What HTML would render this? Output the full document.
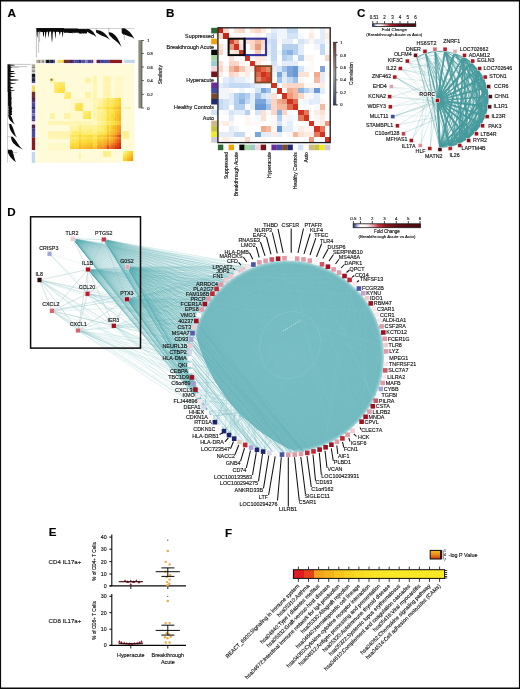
<!DOCTYPE html>
<html><head><meta charset="utf-8"><title>figure</title><style>
html,body{margin:0;padding:0;background:#fff;overflow:hidden}
svg{display:block;will-change:transform;transform:translateZ(0)}
text{font-family:"Liberation Sans",sans-serif;stroke:#111;stroke-width:0.14px}
</style></head><body>
<svg width="520" height="689" viewBox="0 0 520 689">
<rect x="0" y="0" width="520" height="689" fill="#fff"/>
<g id="pa">
<text x="7.5" y="17.4" font-size="11.8" font-weight="bold" fill="#000">A</text>
<rect x="36.3" y="64.3" width="98.4" height="98.4" fill="#fffbd8"/>
<g shape-rendering="crispEdges">
<rect x="92.5" y="76.3" width="4.1" height="2.1" fill="#fef4ad"/>
<rect x="102.6" y="76.3" width="8.1" height="2.1" fill="#fff5b0"/>
<rect x="114.6" y="76.3" width="8.1" height="2.1" fill="#fff8c7"/>
<rect x="50.4" y="78.4" width="4.1" height="2.1" fill="#fff5af"/>
<rect x="84.5" y="78.4" width="6.1" height="2.1" fill="#fef3a4"/>
<rect x="92.5" y="78.4" width="4.1" height="2.1" fill="#fff5b1"/>
<rect x="102.6" y="78.4" width="8.1" height="2.1" fill="#fef4ae"/>
<rect x="114.6" y="78.4" width="8.1" height="2.1" fill="#fff8c6"/>
<rect x="50.4" y="80.4" width="4.1" height="2.1" fill="#fef4a7"/>
<rect x="84.5" y="80.4" width="6.1" height="2.1" fill="#fef3a3"/>
<rect x="92.5" y="80.4" width="4.1" height="2.1" fill="#fef4ae"/>
<rect x="102.6" y="80.4" width="8.1" height="2.1" fill="#fef4ae"/>
<rect x="114.6" y="80.4" width="8.1" height="2.1" fill="#fff8c7"/>
<rect x="54.4" y="82.4" width="4.1" height="2.1" fill="#fdee77"/>
<rect x="58.4" y="82.4" width="4.1" height="2.1" fill="#fdea67"/>
<rect x="62.4" y="82.4" width="2.1" height="2.1" fill="#fce75d"/>
<rect x="92.5" y="82.4" width="4.1" height="2.1" fill="#fff5b0"/>
<rect x="102.6" y="82.4" width="8.1" height="2.1" fill="#fff5b4"/>
<rect x="114.6" y="82.4" width="8.1" height="2.1" fill="#fff8c6"/>
<rect x="54.4" y="84.4" width="4.1" height="2.1" fill="#fded70"/>
<rect x="58.4" y="84.4" width="6.1" height="2.1" fill="#fce65a"/>
<rect x="92.5" y="84.4" width="4.1" height="2.1" fill="#fff5b0"/>
<rect x="102.6" y="84.4" width="8.1" height="2.1" fill="#fff5af"/>
<rect x="114.6" y="84.4" width="8.1" height="2.1" fill="#fff8c6"/>
<rect x="54.4" y="86.4" width="6.1" height="2.1" fill="#fde963"/>
<rect x="60.4" y="86.4" width="2.1" height="2.1" fill="#fce554"/>
<rect x="62.4" y="86.4" width="2.1" height="2.1" fill="#fbe043"/>
<rect x="92.5" y="86.4" width="4.1" height="2.1" fill="#fff5b1"/>
<rect x="102.6" y="86.4" width="8.1" height="2.1" fill="#fff5af"/>
<rect x="114.6" y="86.4" width="8.1" height="2.1" fill="#fff8c7"/>
<rect x="54.4" y="88.4" width="2.1" height="2.1" fill="#fdea66"/>
<rect x="56.4" y="88.4" width="4.1" height="2.1" fill="#fce555"/>
<rect x="60.4" y="88.4" width="4.1" height="2.1" fill="#fbe045"/>
<rect x="92.5" y="88.4" width="4.1" height="2.1" fill="#fff5b4"/>
<rect x="102.6" y="88.4" width="8.1" height="2.1" fill="#fff5b3"/>
<rect x="114.6" y="88.4" width="8.1" height="2.1" fill="#fff7c5"/>
<rect x="54.4" y="90.4" width="4.1" height="2.1" fill="#fce75a"/>
<rect x="58.4" y="90.4" width="4.1" height="2.1" fill="#fbe042"/>
<rect x="62.4" y="90.4" width="2.1" height="2.1" fill="#fbd938"/>
<rect x="92.5" y="90.4" width="4.1" height="2.1" fill="#fef4ab"/>
<rect x="102.6" y="90.4" width="8.1" height="2.1" fill="#fff5b0"/>
<rect x="114.6" y="90.4" width="8.1" height="2.1" fill="#fff8c6"/>
<rect x="64.4" y="92.4" width="2.1" height="2.1" fill="#fef192"/>
<rect x="66.4" y="92.4" width="4.1" height="2.1" fill="#fdee7a"/>
<rect x="84.5" y="92.4" width="6.1" height="2.1" fill="#fef3a0"/>
<rect x="92.5" y="92.4" width="4.1" height="2.1" fill="#fff5b5"/>
<rect x="102.6" y="92.4" width="8.1" height="2.1" fill="#fff5b0"/>
<rect x="114.6" y="92.4" width="8.1" height="2.1" fill="#fff8c7"/>
<rect x="64.4" y="94.4" width="2.1" height="2.1" fill="#fdef7d"/>
<rect x="66.4" y="94.4" width="4.1" height="2.1" fill="#fdec6d"/>
<rect x="84.5" y="94.4" width="6.1" height="2.1" fill="#fef4a7"/>
<rect x="92.5" y="94.4" width="4.1" height="2.1" fill="#fff5af"/>
<rect x="102.6" y="94.4" width="8.1" height="2.1" fill="#fef4ac"/>
<rect x="114.6" y="94.4" width="8.1" height="2.1" fill="#fff7c5"/>
<rect x="64.4" y="96.4" width="4.1" height="2.1" fill="#fded71"/>
<rect x="68.4" y="96.4" width="2.1" height="2.1" fill="#fde963"/>
<rect x="84.5" y="96.4" width="6.1" height="2.1" fill="#fef4a7"/>
<rect x="92.5" y="96.4" width="4.1" height="2.1" fill="#fff5b3"/>
<rect x="102.6" y="96.4" width="8.1" height="2.1" fill="#fef4ac"/>
<rect x="114.6" y="96.4" width="8.1" height="2.1" fill="#fff8c6"/>
<rect x="70.4" y="98.4" width="22.2" height="2.1" fill="#fff8cb"/>
<rect x="92.5" y="98.4" width="10.1" height="2.1" fill="#fef4a9"/>
<rect x="102.6" y="98.4" width="4.1" height="2.1" fill="#fef08c"/>
<rect x="106.6" y="98.4" width="2.1" height="2.1" fill="#fce657"/>
<rect x="108.6" y="98.4" width="4.1" height="2.1" fill="#fdea66"/>
<rect x="112.6" y="98.4" width="2.1" height="2.1" fill="#fce554"/>
<rect x="114.6" y="98.4" width="2.1" height="2.1" fill="#fbe043"/>
<rect x="116.6" y="98.4" width="2.1" height="2.1" fill="#fad737"/>
<rect x="118.6" y="98.4" width="2.1" height="2.1" fill="#f9cb30"/>
<rect x="70.4" y="100.4" width="22.2" height="2.1" fill="#fff8ca"/>
<rect x="92.5" y="100.4" width="6.1" height="2.1" fill="#fff5b0"/>
<rect x="98.6" y="100.4" width="4.1" height="2.1" fill="#fef3a1"/>
<rect x="102.6" y="100.4" width="4.1" height="2.1" fill="#fdec6d"/>
<rect x="106.6" y="100.4" width="6.1" height="2.1" fill="#fce85e"/>
<rect x="112.6" y="100.4" width="2.1" height="2.1" fill="#fce452"/>
<rect x="114.6" y="100.4" width="4.1" height="2.1" fill="#fbd938"/>
<rect x="118.6" y="100.4" width="2.1" height="2.1" fill="#f9ce32"/>
<rect x="70.4" y="102.5" width="4.1" height="2.1" fill="#fff8cb"/>
<rect x="74.5" y="102.5" width="4.1" height="2.1" fill="#fde963"/>
<rect x="78.5" y="102.5" width="4.1" height="2.1" fill="#fce452"/>
<rect x="82.5" y="102.5" width="10.1" height="2.1" fill="#fff9cb"/>
<rect x="92.5" y="102.5" width="6.1" height="2.1" fill="#fff5ae"/>
<rect x="98.6" y="102.5" width="4.1" height="2.1" fill="#fef297"/>
<rect x="102.6" y="102.5" width="4.1" height="2.1" fill="#fdeb6a"/>
<rect x="106.6" y="102.5" width="2.1" height="2.1" fill="#fce350"/>
<rect x="108.6" y="102.5" width="4.1" height="2.1" fill="#fce75d"/>
<rect x="112.6" y="102.5" width="4.1" height="2.1" fill="#fbdf40"/>
<rect x="116.6" y="102.5" width="2.1" height="2.1" fill="#fad536"/>
<rect x="118.6" y="102.5" width="2.1" height="2.1" fill="#f9ce32"/>
<rect x="70.4" y="104.5" width="4.1" height="2.1" fill="#fff8ca"/>
<rect x="74.5" y="104.5" width="2.1" height="2.1" fill="#fce85e"/>
<rect x="76.5" y="104.5" width="6.1" height="2.1" fill="#fce149"/>
<rect x="82.5" y="104.5" width="10.1" height="2.1" fill="#fff8cb"/>
<rect x="92.5" y="104.5" width="6.1" height="2.1" fill="#fef4a8"/>
<rect x="98.6" y="104.5" width="4.1" height="2.1" fill="#fef296"/>
<rect x="102.6" y="104.5" width="4.1" height="2.1" fill="#fdeb69"/>
<rect x="106.6" y="104.5" width="6.1" height="2.1" fill="#fce659"/>
<rect x="112.6" y="104.5" width="2.1" height="2.1" fill="#fce148"/>
<rect x="114.6" y="104.5" width="4.1" height="2.1" fill="#fad535"/>
<rect x="118.6" y="104.5" width="2.1" height="2.1" fill="#f9ca30"/>
<rect x="70.4" y="106.5" width="4.1" height="2.1" fill="#fff8ca"/>
<rect x="74.5" y="106.5" width="8.1" height="2.1" fill="#fce249"/>
<rect x="82.5" y="106.5" width="10.1" height="2.1" fill="#fff8cb"/>
<rect x="92.5" y="106.5" width="4.1" height="2.1" fill="#fef4ae"/>
<rect x="96.5" y="106.5" width="6.1" height="2.1" fill="#fdec6b"/>
<rect x="102.6" y="106.5" width="2.1" height="2.1" fill="#fdea65"/>
<rect x="104.6" y="106.5" width="2.1" height="2.1" fill="#fce450"/>
<rect x="106.6" y="106.5" width="2.1" height="2.1" fill="#fad837"/>
<rect x="108.6" y="106.5" width="4.1" height="2.1" fill="#fbdb39"/>
<rect x="112.6" y="106.5" width="4.1" height="2.1" fill="#f9ca30"/>
<rect x="116.6" y="106.5" width="2.1" height="2.1" fill="#f7be29"/>
<rect x="118.6" y="106.5" width="2.1" height="2.1" fill="#f6b427"/>
<rect x="124.7" y="106.5" width="6.1" height="2.1" fill="#fef3a4"/>
<rect x="70.4" y="108.5" width="4.1" height="2.1" fill="#fff8c8"/>
<rect x="74.5" y="108.5" width="2.1" height="2.1" fill="#fce554"/>
<rect x="76.5" y="108.5" width="4.1" height="2.1" fill="#fbe146"/>
<rect x="80.5" y="108.5" width="2.1" height="2.1" fill="#fbdd3b"/>
<rect x="82.5" y="108.5" width="10.1" height="2.1" fill="#fff8ca"/>
<rect x="92.5" y="108.5" width="4.1" height="2.1" fill="#fef4ab"/>
<rect x="96.5" y="108.5" width="6.1" height="2.1" fill="#fef29a"/>
<rect x="102.6" y="108.5" width="4.1" height="2.1" fill="#fdec6c"/>
<rect x="106.6" y="108.5" width="2.1" height="2.1" fill="#fbe045"/>
<rect x="108.6" y="108.5" width="2.1" height="2.1" fill="#fce658"/>
<rect x="110.6" y="108.5" width="4.1" height="2.1" fill="#fbdf40"/>
<rect x="114.6" y="108.5" width="4.1" height="2.1" fill="#f9cd31"/>
<rect x="118.6" y="108.5" width="2.1" height="2.1" fill="#f8c22b"/>
<rect x="70.4" y="110.5" width="12.1" height="2.1" fill="#fff8ca"/>
<rect x="82.5" y="110.5" width="4.1" height="2.1" fill="#fdee76"/>
<rect x="86.5" y="110.5" width="2.1" height="2.1" fill="#fdea67"/>
<rect x="88.5" y="110.5" width="2.1" height="2.1" fill="#fce75a"/>
<rect x="90.5" y="110.5" width="2.1" height="2.1" fill="#fff8ca"/>
<rect x="92.5" y="110.5" width="4.1" height="2.1" fill="#fff5b6"/>
<rect x="96.5" y="110.5" width="6.1" height="2.1" fill="#fef297"/>
<rect x="102.6" y="110.5" width="4.1" height="2.1" fill="#fdee7b"/>
<rect x="106.6" y="110.5" width="2.1" height="2.1" fill="#fbe044"/>
<rect x="108.6" y="110.5" width="4.1" height="2.1" fill="#fce451"/>
<rect x="112.6" y="110.5" width="2.1" height="2.1" fill="#fbde3d"/>
<rect x="114.6" y="110.5" width="2.1" height="2.1" fill="#fad234"/>
<rect x="116.6" y="110.5" width="2.1" height="2.1" fill="#f8c62d"/>
<rect x="118.6" y="110.5" width="2.1" height="2.1" fill="#f7ba28"/>
<rect x="50.4" y="112.5" width="4.1" height="2.1" fill="#fef4a8"/>
<rect x="64.4" y="112.5" width="6.1" height="2.1" fill="#fef4a9"/>
<rect x="70.4" y="112.5" width="12.1" height="2.1" fill="#fff8ca"/>
<rect x="82.5" y="112.5" width="4.1" height="2.1" fill="#fdec6b"/>
<rect x="86.5" y="112.5" width="4.1" height="2.1" fill="#fce658"/>
<rect x="90.5" y="112.5" width="2.1" height="2.1" fill="#fff9cb"/>
<rect x="92.5" y="112.5" width="6.1" height="2.1" fill="#fef3a5"/>
<rect x="98.6" y="112.5" width="2.1" height="2.1" fill="#fef299"/>
<rect x="100.6" y="112.5" width="4.1" height="2.1" fill="#fdef83"/>
<rect x="104.6" y="112.5" width="2.1" height="2.1" fill="#fdee75"/>
<rect x="106.6" y="112.5" width="2.1" height="2.1" fill="#fbde3f"/>
<rect x="108.6" y="112.5" width="2.1" height="2.1" fill="#fce453"/>
<rect x="110.6" y="112.5" width="4.1" height="2.1" fill="#fbdc39"/>
<rect x="114.6" y="112.5" width="2.1" height="2.1" fill="#f9ca30"/>
<rect x="116.6" y="112.5" width="2.1" height="2.1" fill="#f8c42c"/>
<rect x="118.6" y="112.5" width="2.1" height="2.1" fill="#f7bc28"/>
<rect x="50.4" y="114.5" width="4.1" height="2.1" fill="#fef4a6"/>
<rect x="64.4" y="114.5" width="6.1" height="2.1" fill="#fef3a6"/>
<rect x="70.4" y="114.5" width="12.1" height="2.1" fill="#fff8ca"/>
<rect x="82.5" y="114.5" width="2.1" height="2.1" fill="#fdea67"/>
<rect x="84.5" y="114.5" width="6.1" height="2.1" fill="#fce555"/>
<rect x="90.5" y="114.5" width="2.1" height="2.1" fill="#fff9cc"/>
<rect x="92.5" y="114.5" width="4.1" height="2.1" fill="#fef4ac"/>
<rect x="96.5" y="114.5" width="4.1" height="2.1" fill="#fef298"/>
<rect x="100.6" y="114.5" width="2.1" height="2.1" fill="#fdef80"/>
<rect x="102.6" y="114.5" width="4.1" height="2.1" fill="#fded6e"/>
<rect x="106.6" y="114.5" width="4.1" height="2.1" fill="#fbe147"/>
<rect x="110.6" y="114.5" width="4.1" height="2.1" fill="#fad837"/>
<rect x="114.6" y="114.5" width="2.1" height="2.1" fill="#f9d033"/>
<rect x="116.6" y="114.5" width="4.1" height="2.1" fill="#f7b827"/>
<rect x="50.4" y="116.5" width="4.1" height="2.1" fill="#fef29c"/>
<rect x="64.4" y="116.5" width="6.1" height="2.1" fill="#fef39f"/>
<rect x="70.4" y="116.5" width="12.1" height="2.1" fill="#fff8cb"/>
<rect x="82.5" y="116.5" width="6.1" height="2.1" fill="#fce556"/>
<rect x="88.5" y="116.5" width="2.1" height="2.1" fill="#fbde3e"/>
<rect x="90.5" y="116.5" width="2.1" height="2.1" fill="#fff8c8"/>
<rect x="92.5" y="116.5" width="4.1" height="2.1" fill="#fff5b4"/>
<rect x="96.5" y="116.5" width="4.1" height="2.1" fill="#fef192"/>
<rect x="100.6" y="116.5" width="4.1" height="2.1" fill="#fdef7f"/>
<rect x="104.6" y="116.5" width="2.1" height="2.1" fill="#fdeb6a"/>
<rect x="106.6" y="116.5" width="6.1" height="2.1" fill="#fbdf3f"/>
<rect x="112.6" y="116.5" width="2.1" height="2.1" fill="#fad234"/>
<rect x="114.6" y="116.5" width="4.1" height="2.1" fill="#f8c32c"/>
<rect x="118.6" y="116.5" width="2.1" height="2.1" fill="#f5ac26"/>
<rect x="70.4" y="118.5" width="22.2" height="2.1" fill="#fff9cb"/>
<rect x="92.5" y="118.5" width="4.1" height="2.1" fill="#fff5af"/>
<rect x="96.5" y="118.5" width="4.1" height="2.1" fill="#fef193"/>
<rect x="100.6" y="118.5" width="4.1" height="2.1" fill="#fdee76"/>
<rect x="104.6" y="118.5" width="2.1" height="2.1" fill="#fdea67"/>
<rect x="106.6" y="118.5" width="2.1" height="2.1" fill="#fbda38"/>
<rect x="108.6" y="118.5" width="2.1" height="2.1" fill="#fbdf41"/>
<rect x="110.6" y="118.5" width="2.1" height="2.1" fill="#fbda38"/>
<rect x="112.6" y="118.5" width="2.1" height="2.1" fill="#fad234"/>
<rect x="114.6" y="118.5" width="2.1" height="2.1" fill="#f8c42d"/>
<rect x="116.6" y="118.5" width="2.1" height="2.1" fill="#f7bd28"/>
<rect x="118.6" y="118.5" width="2.1" height="2.1" fill="#f6b026"/>
<rect x="48.3" y="120.5" width="44.3" height="2.1" fill="#fff5af"/>
<rect x="92.5" y="120.5" width="4.1" height="2.1" fill="#fff8c9"/>
<rect x="96.5" y="120.5" width="4.1" height="2.1" fill="#fef3a3"/>
<rect x="100.6" y="120.5" width="4.1" height="2.1" fill="#fef08c"/>
<rect x="104.6" y="120.5" width="2.1" height="2.1" fill="#fded6f"/>
<rect x="106.6" y="120.5" width="4.1" height="2.1" fill="#fce556"/>
<rect x="110.6" y="120.5" width="2.1" height="2.1" fill="#fbe146"/>
<rect x="112.6" y="120.5" width="2.1" height="2.1" fill="#fbdd3b"/>
<rect x="114.6" y="120.5" width="4.1" height="2.1" fill="#fad134"/>
<rect x="118.6" y="120.5" width="2.1" height="2.1" fill="#f7bd28"/>
<rect x="48.3" y="122.5" width="44.3" height="2.1" fill="#fff5b0"/>
<rect x="92.5" y="122.5" width="4.1" height="2.1" fill="#fff8ca"/>
<rect x="96.5" y="122.5" width="4.1" height="2.1" fill="#fef29d"/>
<rect x="100.6" y="122.5" width="4.1" height="2.1" fill="#fef086"/>
<rect x="104.6" y="122.5" width="2.1" height="2.1" fill="#fdec6d"/>
<rect x="106.6" y="122.5" width="4.1" height="2.1" fill="#fce554"/>
<rect x="110.6" y="122.5" width="4.1" height="2.1" fill="#fbdf40"/>
<rect x="114.6" y="122.5" width="2.1" height="2.1" fill="#fad536"/>
<rect x="116.6" y="122.5" width="2.1" height="2.1" fill="#f9c92f"/>
<rect x="118.6" y="122.5" width="2.1" height="2.1" fill="#f7c02a"/>
<rect x="70.4" y="124.5" width="8.1" height="2.1" fill="#fef4a8"/>
<rect x="78.5" y="124.5" width="2.1" height="2.1" fill="#fded72"/>
<rect x="80.5" y="124.5" width="16.2" height="2.1" fill="#fef29c"/>
<rect x="96.5" y="124.5" width="4.1" height="2.1" fill="#fdef84"/>
<rect x="100.6" y="124.5" width="2.1" height="2.1" fill="#fded70"/>
<rect x="102.6" y="124.5" width="4.1" height="2.1" fill="#fce85e"/>
<rect x="106.6" y="124.5" width="2.1" height="2.1" fill="#f9d033"/>
<rect x="108.6" y="124.5" width="2.1" height="2.1" fill="#fbda38"/>
<rect x="110.6" y="124.5" width="2.1" height="2.1" fill="#f9cf32"/>
<rect x="112.6" y="124.5" width="4.1" height="2.1" fill="#f7be29"/>
<rect x="116.6" y="124.5" width="2.1" height="2.1" fill="#f5a425"/>
<rect x="118.6" y="124.5" width="2.1" height="2.1" fill="#f39b24"/>
<rect x="70.4" y="126.6" width="6.1" height="2.1" fill="#fef3a4"/>
<rect x="76.5" y="126.6" width="2.1" height="2.1" fill="#fef29a"/>
<rect x="78.5" y="126.6" width="2.1" height="2.1" fill="#fdeb6b"/>
<rect x="80.5" y="126.6" width="6.1" height="2.1" fill="#fef29a"/>
<rect x="86.5" y="126.6" width="6.1" height="2.1" fill="#fef190"/>
<rect x="92.5" y="126.6" width="4.1" height="2.1" fill="#fef3a1"/>
<rect x="96.5" y="126.6" width="4.1" height="2.1" fill="#fdef80"/>
<rect x="100.6" y="126.6" width="2.1" height="2.1" fill="#fded72"/>
<rect x="102.6" y="126.6" width="4.1" height="2.1" fill="#fce75b"/>
<rect x="106.6" y="126.6" width="2.1" height="2.1" fill="#f9cd31"/>
<rect x="108.6" y="126.6" width="2.1" height="2.1" fill="#fbd938"/>
<rect x="110.6" y="126.6" width="2.1" height="2.1" fill="#f9ca30"/>
<rect x="112.6" y="126.6" width="2.1" height="2.1" fill="#f7ba28"/>
<rect x="114.6" y="126.6" width="2.1" height="2.1" fill="#f6b227"/>
<rect x="116.6" y="126.6" width="2.1" height="2.1" fill="#f4a325"/>
<rect x="118.6" y="126.6" width="2.1" height="2.1" fill="#f39923"/>
<rect x="70.4" y="128.6" width="4.1" height="2.1" fill="#fef3a0"/>
<rect x="74.5" y="128.6" width="4.1" height="2.1" fill="#fef192"/>
<rect x="78.5" y="128.6" width="2.1" height="2.1" fill="#fdea66"/>
<rect x="80.5" y="128.6" width="6.1" height="2.1" fill="#fef18d"/>
<rect x="86.5" y="128.6" width="6.1" height="2.1" fill="#fdef80"/>
<rect x="92.5" y="128.6" width="4.1" height="2.1" fill="#fef08c"/>
<rect x="96.5" y="128.6" width="6.1" height="2.1" fill="#fded70"/>
<rect x="102.6" y="128.6" width="2.1" height="2.1" fill="#fce860"/>
<rect x="104.6" y="128.6" width="2.1" height="2.1" fill="#fce24a"/>
<rect x="106.6" y="128.6" width="2.1" height="2.1" fill="#fad234"/>
<rect x="108.6" y="128.6" width="2.1" height="2.1" fill="#fad837"/>
<rect x="110.6" y="128.6" width="2.1" height="2.1" fill="#f9c92f"/>
<rect x="112.6" y="128.6" width="2.1" height="2.1" fill="#f7bf2a"/>
<rect x="114.6" y="128.6" width="2.1" height="2.1" fill="#f6af26"/>
<rect x="116.6" y="128.6" width="2.1" height="2.1" fill="#f4a225"/>
<rect x="118.6" y="128.6" width="2.1" height="2.1" fill="#f18d22"/>
<rect x="48.3" y="130.6" width="22.2" height="2.1" fill="#fff5b2"/>
<rect x="70.4" y="130.6" width="2.1" height="2.1" fill="#fef18e"/>
<rect x="72.4" y="130.6" width="10.1" height="2.1" fill="#fdeb6a"/>
<rect x="82.5" y="130.6" width="4.1" height="2.1" fill="#fdef81"/>
<rect x="86.5" y="130.6" width="6.1" height="2.1" fill="#fded73"/>
<rect x="92.5" y="130.6" width="4.1" height="2.1" fill="#fef086"/>
<rect x="96.5" y="130.6" width="8.1" height="2.1" fill="#fce85f"/>
<rect x="104.6" y="130.6" width="2.1" height="2.1" fill="#fce34d"/>
<rect x="106.6" y="130.6" width="4.1" height="2.1" fill="#f9c92f"/>
<rect x="110.6" y="130.6" width="2.1" height="2.1" fill="#f7bf2a"/>
<rect x="112.6" y="130.6" width="2.1" height="2.1" fill="#f6b627"/>
<rect x="114.6" y="130.6" width="2.1" height="2.1" fill="#f5aa26"/>
<rect x="116.6" y="130.6" width="2.1" height="2.1" fill="#f49f24"/>
<rect x="118.6" y="130.6" width="2.1" height="2.1" fill="#f08320"/>
<rect x="122.7" y="130.6" width="6.1" height="2.1" fill="#fef08a"/>
<rect x="48.3" y="132.6" width="22.2" height="2.1" fill="#fef4ae"/>
<rect x="70.4" y="132.6" width="2.1" height="2.1" fill="#fef089"/>
<rect x="72.4" y="132.6" width="6.1" height="2.1" fill="#fdec6b"/>
<rect x="78.5" y="132.6" width="2.1" height="2.1" fill="#fce450"/>
<rect x="80.5" y="132.6" width="16.2" height="2.1" fill="#fdec6d"/>
<rect x="96.5" y="132.6" width="4.1" height="2.1" fill="#fce659"/>
<rect x="100.6" y="132.6" width="4.1" height="2.1" fill="#fce24c"/>
<rect x="104.6" y="132.6" width="2.1" height="2.1" fill="#fbdd3a"/>
<rect x="106.6" y="132.6" width="4.1" height="2.1" fill="#f9c92f"/>
<rect x="110.6" y="132.6" width="2.1" height="2.1" fill="#f7be29"/>
<rect x="112.6" y="132.6" width="2.1" height="2.1" fill="#f6b327"/>
<rect x="114.6" y="132.6" width="2.1" height="2.1" fill="#f5a625"/>
<rect x="116.6" y="132.6" width="4.1" height="2.1" fill="#f08821"/>
<rect x="122.7" y="132.6" width="6.1" height="2.1" fill="#fef08b"/>
<rect x="48.3" y="134.6" width="22.2" height="2.1" fill="#fff5af"/>
<rect x="70.4" y="134.6" width="8.1" height="2.1" fill="#fce556"/>
<rect x="78.5" y="134.6" width="2.1" height="2.1" fill="#fad837"/>
<rect x="80.5" y="134.6" width="8.1" height="2.1" fill="#fbe044"/>
<rect x="88.5" y="134.6" width="4.1" height="2.1" fill="#fbdb39"/>
<rect x="92.5" y="134.6" width="4.1" height="2.1" fill="#fce453"/>
<rect x="96.5" y="134.6" width="6.1" height="2.1" fill="#f9d033"/>
<rect x="102.6" y="134.6" width="4.1" height="2.1" fill="#f8c82e"/>
<rect x="106.6" y="134.6" width="2.1" height="2.1" fill="#f5a625"/>
<rect x="108.6" y="134.6" width="2.1" height="2.1" fill="#f6b527"/>
<rect x="110.6" y="134.6" width="2.1" height="2.1" fill="#f4a425"/>
<rect x="112.6" y="134.6" width="2.1" height="2.1" fill="#f39323"/>
<rect x="114.6" y="134.6" width="2.1" height="2.1" fill="#f08320"/>
<rect x="116.6" y="134.6" width="2.1" height="2.1" fill="#e65d1b"/>
<rect x="118.6" y="134.6" width="2.1" height="2.1" fill="#dd4519"/>
<rect x="122.7" y="134.6" width="6.1" height="2.1" fill="#fef089"/>
<rect x="48.3" y="136.6" width="22.2" height="2.1" fill="#fff5b0"/>
<rect x="70.4" y="136.6" width="6.1" height="2.1" fill="#fdea67"/>
<rect x="76.5" y="136.6" width="2.1" height="2.1" fill="#fce75c"/>
<rect x="78.5" y="136.6" width="2.1" height="2.1" fill="#fbdd3c"/>
<rect x="80.5" y="136.6" width="6.1" height="2.1" fill="#fce555"/>
<rect x="86.5" y="136.6" width="6.1" height="2.1" fill="#fbe044"/>
<rect x="92.5" y="136.6" width="4.1" height="2.1" fill="#fce657"/>
<rect x="96.5" y="136.6" width="6.1" height="2.1" fill="#fbd938"/>
<rect x="102.6" y="136.6" width="4.1" height="2.1" fill="#f9ca30"/>
<rect x="106.6" y="136.6" width="2.1" height="2.1" fill="#f6b527"/>
<rect x="108.6" y="136.6" width="2.1" height="2.1" fill="#f8c22b"/>
<rect x="110.6" y="136.6" width="2.1" height="2.1" fill="#f6b527"/>
<rect x="112.6" y="136.6" width="2.1" height="2.1" fill="#f5a525"/>
<rect x="114.6" y="136.6" width="2.1" height="2.1" fill="#f39723"/>
<rect x="116.6" y="136.6" width="2.1" height="2.1" fill="#ef7e1f"/>
<rect x="118.6" y="136.6" width="2.1" height="2.1" fill="#e75f1b"/>
<rect x="122.7" y="136.6" width="6.1" height="2.1" fill="#fef088"/>
<rect x="70.4" y="138.6" width="2.1" height="2.1" fill="#fce962"/>
<rect x="72.4" y="138.6" width="6.1" height="2.1" fill="#fce657"/>
<rect x="78.5" y="138.6" width="2.1" height="2.1" fill="#fad837"/>
<rect x="80.5" y="138.6" width="6.1" height="2.1" fill="#fbe044"/>
<rect x="86.5" y="138.6" width="6.1" height="2.1" fill="#fbdc3a"/>
<rect x="92.5" y="138.6" width="4.1" height="2.1" fill="#fbe044"/>
<rect x="96.5" y="138.6" width="6.1" height="2.1" fill="#f9cb30"/>
<rect x="102.6" y="138.6" width="4.1" height="2.1" fill="#f7bf2a"/>
<rect x="106.6" y="138.6" width="2.1" height="2.1" fill="#f4a425"/>
<rect x="108.6" y="138.6" width="2.1" height="2.1" fill="#f6b527"/>
<rect x="110.6" y="138.6" width="2.1" height="2.1" fill="#f5a926"/>
<rect x="112.6" y="138.6" width="2.1" height="2.1" fill="#f49c24"/>
<rect x="114.6" y="138.6" width="2.1" height="2.1" fill="#f08220"/>
<rect x="116.6" y="138.6" width="2.1" height="2.1" fill="#ea661c"/>
<rect x="118.6" y="138.6" width="2.1" height="2.1" fill="#e65c1b"/>
<rect x="70.4" y="140.6" width="4.1" height="2.1" fill="#fce453"/>
<rect x="74.5" y="140.6" width="4.1" height="2.1" fill="#fbe146"/>
<rect x="78.5" y="140.6" width="2.1" height="2.1" fill="#f9cc30"/>
<rect x="80.5" y="140.6" width="6.1" height="2.1" fill="#fbdd3a"/>
<rect x="86.5" y="140.6" width="6.1" height="2.1" fill="#fad335"/>
<rect x="92.5" y="140.6" width="4.1" height="2.1" fill="#fbde3c"/>
<rect x="96.5" y="140.6" width="6.1" height="2.1" fill="#f7be29"/>
<rect x="102.6" y="140.6" width="4.1" height="2.1" fill="#f6b527"/>
<rect x="106.6" y="140.6" width="2.1" height="2.1" fill="#f39323"/>
<rect x="108.6" y="140.6" width="2.1" height="2.1" fill="#f5a525"/>
<rect x="110.6" y="140.6" width="2.1" height="2.1" fill="#f49c24"/>
<rect x="112.6" y="140.6" width="2.1" height="2.1" fill="#f29222"/>
<rect x="114.6" y="140.6" width="2.1" height="2.1" fill="#ed721d"/>
<rect x="116.6" y="140.6" width="2.1" height="2.1" fill="#e9641c"/>
<rect x="118.6" y="140.6" width="2.1" height="2.1" fill="#df4b19"/>
<rect x="48.3" y="142.6" width="22.2" height="2.1" fill="#fff8c7"/>
<rect x="70.4" y="142.6" width="2.1" height="2.1" fill="#fbe043"/>
<rect x="72.4" y="142.6" width="6.1" height="2.1" fill="#fbda39"/>
<rect x="78.5" y="142.6" width="2.1" height="2.1" fill="#f8c82f"/>
<rect x="80.5" y="142.6" width="8.1" height="2.1" fill="#f9cf32"/>
<rect x="88.5" y="142.6" width="4.1" height="2.1" fill="#f8c52d"/>
<rect x="92.5" y="142.6" width="4.1" height="2.1" fill="#fad435"/>
<rect x="96.5" y="142.6" width="2.1" height="2.1" fill="#f7bc28"/>
<rect x="98.6" y="142.6" width="4.1" height="2.1" fill="#f6b026"/>
<rect x="102.6" y="142.6" width="4.1" height="2.1" fill="#f5a825"/>
<rect x="106.6" y="142.6" width="2.1" height="2.1" fill="#f08320"/>
<rect x="108.6" y="142.6" width="2.1" height="2.1" fill="#f39723"/>
<rect x="110.6" y="142.6" width="2.1" height="2.1" fill="#f08220"/>
<rect x="112.6" y="142.6" width="2.1" height="2.1" fill="#ed721d"/>
<rect x="114.6" y="142.6" width="2.1" height="2.1" fill="#ea671c"/>
<rect x="116.6" y="142.6" width="2.1" height="2.1" fill="#de4819"/>
<rect x="118.6" y="142.6" width="2.1" height="2.1" fill="#d53817"/>
<rect x="48.3" y="144.6" width="22.2" height="2.1" fill="#fff8c6"/>
<rect x="70.4" y="144.6" width="8.1" height="2.1" fill="#fad636"/>
<rect x="78.5" y="144.6" width="2.1" height="2.1" fill="#f7be29"/>
<rect x="80.5" y="144.6" width="4.1" height="2.1" fill="#f8c82f"/>
<rect x="84.5" y="144.6" width="2.1" height="2.1" fill="#f8c42c"/>
<rect x="86.5" y="144.6" width="2.1" height="2.1" fill="#f7bb28"/>
<rect x="88.5" y="144.6" width="4.1" height="2.1" fill="#f7bf2a"/>
<rect x="92.5" y="144.6" width="2.1" height="2.1" fill="#f9d033"/>
<rect x="94.5" y="144.6" width="2.1" height="2.1" fill="#f9c92f"/>
<rect x="96.5" y="144.6" width="8.1" height="2.1" fill="#f4a225"/>
<rect x="104.6" y="144.6" width="2.1" height="2.1" fill="#f18b21"/>
<rect x="106.6" y="144.6" width="2.1" height="2.1" fill="#e65d1b"/>
<rect x="108.6" y="144.6" width="2.1" height="2.1" fill="#ef7e1f"/>
<rect x="110.6" y="144.6" width="4.1" height="2.1" fill="#e9651c"/>
<rect x="114.6" y="144.6" width="4.1" height="2.1" fill="#de4719"/>
<rect x="118.6" y="144.6" width="2.1" height="2.1" fill="#cf3215"/>
<rect x="48.3" y="146.6" width="22.2" height="2.1" fill="#fff8c6"/>
<rect x="70.4" y="146.6" width="8.1" height="2.1" fill="#f9cc31"/>
<rect x="78.5" y="146.6" width="2.1" height="2.1" fill="#f6b427"/>
<rect x="80.5" y="146.6" width="2.1" height="2.1" fill="#f8c22b"/>
<rect x="82.5" y="146.6" width="6.1" height="2.1" fill="#f7b928"/>
<rect x="88.5" y="146.6" width="4.1" height="2.1" fill="#f6ae26"/>
<rect x="92.5" y="146.6" width="4.1" height="2.1" fill="#f7be29"/>
<rect x="96.5" y="146.6" width="4.1" height="2.1" fill="#f39a24"/>
<rect x="100.6" y="146.6" width="2.1" height="2.1" fill="#f18d22"/>
<rect x="102.6" y="146.6" width="4.1" height="2.1" fill="#f08420"/>
<rect x="106.6" y="146.6" width="2.1" height="2.1" fill="#dd4519"/>
<rect x="108.6" y="146.6" width="4.1" height="2.1" fill="#e65e1b"/>
<rect x="112.6" y="146.6" width="2.1" height="2.1" fill="#df4b19"/>
<rect x="114.6" y="146.6" width="2.1" height="2.1" fill="#d53817"/>
<rect x="116.6" y="146.6" width="2.1" height="2.1" fill="#cf3215"/>
<rect x="118.6" y="146.6" width="2.1" height="2.1" fill="#c32612"/>
<rect x="48.3" y="148.6" width="22.2" height="2.1" fill="#fff8c6"/>
<rect x="102.6" y="150.7" width="8.1" height="2.1" fill="#fef089"/>
<rect x="122.7" y="150.7" width="2.1" height="2.1" fill="#fef193"/>
<rect x="124.7" y="150.7" width="2.1" height="2.1" fill="#fded73"/>
<rect x="126.7" y="150.7" width="2.1" height="2.1" fill="#fce34d"/>
<rect x="128.7" y="150.7" width="2.1" height="2.1" fill="#fbda38"/>
<rect x="130.7" y="150.7" width="2.1" height="2.1" fill="#f9ce32"/>
<rect x="78.5" y="152.7" width="2.1" height="2.1" fill="#fef3a2"/>
<rect x="102.6" y="152.7" width="8.1" height="2.1" fill="#fef088"/>
<rect x="122.7" y="152.7" width="2.1" height="2.1" fill="#fded73"/>
<rect x="124.7" y="152.7" width="2.1" height="2.1" fill="#fce451"/>
<rect x="126.7" y="152.7" width="2.1" height="2.1" fill="#fbde3e"/>
<rect x="128.7" y="152.7" width="2.1" height="2.1" fill="#fad335"/>
<rect x="130.7" y="152.7" width="2.1" height="2.1" fill="#f8c62d"/>
<rect x="78.5" y="154.7" width="2.1" height="2.1" fill="#fef3a6"/>
<rect x="102.6" y="154.7" width="8.1" height="2.1" fill="#fef08b"/>
<rect x="122.7" y="154.7" width="2.1" height="2.1" fill="#fce34d"/>
<rect x="124.7" y="154.7" width="2.1" height="2.1" fill="#fbde3e"/>
<rect x="126.7" y="154.7" width="2.1" height="2.1" fill="#fad234"/>
<rect x="128.7" y="154.7" width="2.1" height="2.1" fill="#f8c32c"/>
<rect x="130.7" y="154.7" width="2.1" height="2.1" fill="#f6b427"/>
<rect x="78.5" y="156.7" width="2.1" height="2.1" fill="#fef3a5"/>
<rect x="122.7" y="156.7" width="2.1" height="2.1" fill="#fbda38"/>
<rect x="124.7" y="156.7" width="2.1" height="2.1" fill="#fad335"/>
<rect x="126.7" y="156.7" width="2.1" height="2.1" fill="#f8c32c"/>
<rect x="128.7" y="156.7" width="2.1" height="2.1" fill="#f6b627"/>
<rect x="130.7" y="156.7" width="2.1" height="2.1" fill="#f5a825"/>
<rect x="122.7" y="158.7" width="2.1" height="2.1" fill="#f9ce32"/>
<rect x="124.7" y="158.7" width="2.1" height="2.1" fill="#f8c62d"/>
<rect x="126.7" y="158.7" width="2.1" height="2.1" fill="#f6b427"/>
<rect x="128.7" y="158.7" width="2.1" height="2.1" fill="#f5a825"/>
<rect x="130.7" y="158.7" width="2.1" height="2.1" fill="#f39923"/>
</g>
<rect x="50.5" y="78.7" width="2" height="2" fill="#5a5020" opacity="0.8"/>
<path d="M54.9 64.3V162.7M36.3 82.9H134.7" stroke="#fffef0" stroke-width="0.4" opacity="0.35" fill="none"/>
<path d="M63.8 64.3V162.7M36.3 91.8H134.7" stroke="#fffef0" stroke-width="0.4" opacity="0.35" fill="none"/>
<path d="M71.4 64.3V162.7M36.3 99.4H134.7" stroke="#fffef0" stroke-width="0.4" opacity="0.35" fill="none"/>
<path d="M75 64.3V162.7M36.3 103H134.7" stroke="#fffef0" stroke-width="0.4" opacity="0.35" fill="none"/>
<path d="M82.2 64.3V162.7M36.3 110.2H134.7" stroke="#fffef0" stroke-width="0.4" opacity="0.35" fill="none"/>
<path d="M93.4 64.3V162.7M36.3 121.4H134.7" stroke="#fffef0" stroke-width="0.4" opacity="0.35" fill="none"/>
<path d="M96.8 64.3V162.7M36.3 124.8H134.7" stroke="#fffef0" stroke-width="0.4" opacity="0.35" fill="none"/>
<path d="M103 64.3V162.7M36.3 131H134.7" stroke="#fffef0" stroke-width="0.4" opacity="0.35" fill="none"/>
<path d="M109.9 64.3V162.7M36.3 137.9H134.7" stroke="#fffef0" stroke-width="0.4" opacity="0.35" fill="none"/>
<path d="M122.4 64.3V162.7M36.3 150.4H134.7" stroke="#fffef0" stroke-width="0.4" opacity="0.35" fill="none"/>
<rect x="36.3" y="59.8" width="2.6" height="3.3" fill="#b0a890"/>
<rect x="31.8" y="64.3" width="3.4" height="2.6" fill="#b0a890"/>
<rect x="38.8" y="59.8" width="1.8" height="3.3" fill="#8a867a"/>
<rect x="31.8" y="66.8" width="3.4" height="1.8" fill="#8a867a"/>
<rect x="40.5" y="59.8" width="1.8" height="3.3" fill="#c8c4b8"/>
<rect x="31.8" y="68.5" width="3.4" height="1.8" fill="#c8c4b8"/>
<rect x="42.2" y="59.8" width="1.8" height="3.3" fill="#8c8880"/>
<rect x="31.8" y="70.2" width="3.4" height="1.8" fill="#8c8880"/>
<rect x="43.9" y="59.8" width="2" height="3.3" fill="#d8d4cc"/>
<rect x="31.8" y="71.9" width="3.4" height="2" fill="#d8d4cc"/>
<rect x="45.8" y="59.8" width="3.7" height="3.3" fill="#16161e"/>
<rect x="31.8" y="73.8" width="3.4" height="3.7" fill="#16161e"/>
<rect x="49.4" y="59.8" width="1.8" height="3.3" fill="#30305a"/>
<rect x="31.8" y="77.4" width="3.4" height="1.8" fill="#30305a"/>
<rect x="51.1" y="59.8" width="2.2" height="3.3" fill="#1c1c30"/>
<rect x="31.8" y="79.1" width="3.4" height="2.2" fill="#1c1c30"/>
<rect x="53.2" y="59.8" width="1.8" height="3.3" fill="#3c3c78"/>
<rect x="31.8" y="81.2" width="3.4" height="1.8" fill="#3c3c78"/>
<rect x="54.9" y="59.8" width="2.6" height="3.3" fill="#f6f2f4"/>
<rect x="31.8" y="82.9" width="3.4" height="2.6" fill="#f6f2f4"/>
<rect x="57.5" y="59.8" width="6.4" height="3.3" fill="#f0df58"/>
<rect x="31.8" y="85.5" width="3.4" height="6.4" fill="#f0df58"/>
<rect x="63.8" y="59.8" width="5.4" height="3.3" fill="#6e3028"/>
<rect x="31.8" y="91.8" width="3.4" height="5.4" fill="#6e3028"/>
<rect x="69.1" y="59.8" width="2.9" height="3.3" fill="#4c2448"/>
<rect x="31.8" y="97.1" width="3.4" height="2.9" fill="#4c2448"/>
<rect x="71.9" y="59.8" width="2.6" height="3.3" fill="#5a3268"/>
<rect x="31.8" y="99.9" width="3.4" height="2.6" fill="#5a3268"/>
<rect x="74.4" y="59.8" width="4.8" height="3.3" fill="#4c4a9c"/>
<rect x="31.8" y="102.4" width="3.4" height="4.8" fill="#4c4a9c"/>
<rect x="79" y="59.8" width="2.2" height="3.3" fill="#34306c"/>
<rect x="31.8" y="107" width="3.4" height="2.2" fill="#34306c"/>
<rect x="81.2" y="59.8" width="4.3" height="3.3" fill="#5250a2"/>
<rect x="31.8" y="109.2" width="3.4" height="4.3" fill="#5250a2"/>
<rect x="85.4" y="59.8" width="2.2" height="3.3" fill="#7c78b8"/>
<rect x="31.8" y="113.4" width="3.4" height="2.2" fill="#7c78b8"/>
<rect x="87.5" y="59.8" width="3.9" height="3.3" fill="#4a46a0"/>
<rect x="31.8" y="115.5" width="3.4" height="3.9" fill="#4a46a0"/>
<rect x="91.3" y="59.8" width="2.2" height="3.3" fill="#54347c"/>
<rect x="31.8" y="119.3" width="3.4" height="2.2" fill="#54347c"/>
<rect x="93.4" y="59.8" width="3.3" height="3.3" fill="#f6e6ee"/>
<rect x="31.8" y="121.4" width="3.4" height="3.3" fill="#f6e6ee"/>
<rect x="96.6" y="59.8" width="3.7" height="3.3" fill="#54204c"/>
<rect x="31.8" y="124.6" width="3.4" height="3.7" fill="#54204c"/>
<rect x="100.2" y="59.8" width="2.9" height="3.3" fill="#4a3c8c"/>
<rect x="31.8" y="128.2" width="3.4" height="2.9" fill="#4a3c8c"/>
<rect x="103" y="59.8" width="6.4" height="3.3" fill="#4a4aa0"/>
<rect x="31.8" y="131" width="3.4" height="6.4" fill="#4a4aa0"/>
<rect x="109.3" y="59.8" width="12.8" height="3.3" fill="#8c1a1c"/>
<rect x="31.8" y="137.3" width="3.4" height="12.8" fill="#8c1a1c"/>
<rect x="122" y="59.8" width="2.2" height="3.3" fill="#fafafa"/>
<rect x="31.8" y="150" width="3.4" height="2.2" fill="#fafafa"/>
<rect x="124.1" y="59.8" width="10.7" height="3.3" fill="#c2d8ea"/>
<rect x="31.8" y="152.1" width="3.4" height="10.7" fill="#c2d8ea"/>
<path d="M36.3 28L64 28L64 28.5L78 28.6L78 29L87.5 29.2L86.9 33.6L86 33.4L85.1 33.4L84.2 33.2L83.3 33.7L82.4 33.3L81.5 33.4L80.6 33.7L79.7 33.2L78.8 33.2L77.9 32.4L77 33.1L76.1 32.5L75.2 33.1L74.3 32.7L73.4 32.7L72.5 32.7L71.6 32.9L70.7 33L69.8 33L68.9 33L68 32.5L67.1 32.9L66.2 32.5L65.3 32.8L64.4 33L63.5 31.7L62.6 31.7L61.7 32.3L60.8 31.7L59.9 32.2L59 31.8L58.1 31.9L57.2 31.6L56.3 32.1L55.4 31.9L54.5 31.9L53.6 31.5L52.7 32.3L51.8 32.1L50.9 31.7L50 31.5L49.1 31.6L48.2 32.2L47.3 31.6L46.4 32.2L45.5 31.7L44.6 31.9L43.7 32.1L42.8 31.8L41.9 32.1L41 31.8L40.1 31.8L39.2 31.5L38.3 32L37.4 32.2L36.5 31.9ZM36.5 29L37.9 29L37.6 35.5L37.3 38L36.8 35ZM39.3 29L40.4 29L40.1 33L40 34.6L39.6 32.6ZM42.8 29L44.4 29L44 35L43.7 37.3L43.2 34.5ZM45.1 29L46.7 29L46.3 33.6L46 35.5L45.5 33.3ZM48.4 29L49.7 29L49.4 31.8L49.2 33L48.7 31.5ZM52.4 29L53.5 29L53.2 31.7L53 32.9L52.6 31.4ZM54.6 29L56.3 29L55.9 33.8L55.6 35.7L55.1 33.4ZM57.2 29L58.3 29L58 31.3L57.8 32.4L57.4 31.1ZM59.8 29L60.9 29L60.6 33L60.4 34.6L60.1 32.6ZM62.1 29L63.8 29L63.4 31.5L63.1 32.6L62.5 31.2ZM65.6 29L67.3 29L66.9 30.9L66.6 31.9L66 30.7ZM67.7 29L69.5 29L69 31.6L68.7 32.8L68.1 31.4ZM71.6 29L72.9 29L72.6 32.5L72.3 34.1L71.9 32.2ZM74.1 29L75.1 29L74.8 32.3L74.7 33.7L74.3 32ZM76.5 29L77.4 29L77.2 31.6L77 32.9L76.7 31.4ZM78.9 29L80.5 29L80.1 32.7L79.8 34.3L79.3 32.4ZM82 29L83.4 29L83 32.3L82.8 33.7L82.4 32ZM84.3 29L85.5 29L85.2 32.2L85 33.6L84.6 31.9ZM42.4 29L44 29L43.7 34.1L43.4 36.7L42.9 34.1ZM44.8 29L46.2 29L46 35.7L45.6 39L45.2 35.7ZM47.6 29L49.2 29L48.9 34.9L48.5 37.8L48.1 34.9ZM50.9 29L52.9 29L52.5 38.5L52 43L51.5 38.5ZM54.5 29L56 29L55.8 35.7L55.4 39L55 35.7ZM58.6 29L60.2 29L59.9 33.2L59.5 35.5L59.1 33.2ZM61.8 29L63.4 29L63.1 34.9L62.8 37.8L62.3 34.9ZM86.9 28.9L87.6 28.9L88.2 29L88.9 29.1L89.6 29.3L90.3 29.6L90.9 30L91.6 30.5L92.3 31.1L92.9 31.8L93.6 32.6L94.3 33.5L95 34.5L95.6 35.6L96.3 36.9L96.3 37.1L95.6 36.4L95 35.9L94.3 35.5L93.6 35.1L92.9 34.8L92.3 34.5L91.6 34.2L90.9 33.9L90.3 33.6L89.6 33.2L88.9 32.8L88.2 32.4L87.6 31.9L86.9 31.4ZM96.1 30.1L97.1 30.1L98 30.2L99 30.4L100 30.6L100.9 31L101.9 31.5L102.8 32L103.8 32.7L104.8 33.5L105.7 34.5L106.7 35.6L107.7 36.8L108.6 38.1L109.6 39.6L109.6 39.8L108.6 38.9L107.7 38.3L106.7 37.7L105.7 37.2L104.8 36.8L103.8 36.4L102.8 36.1L101.9 35.7L100.9 35.2L100 34.8L99 34.2L98 33.6L97.1 33L96.1 32.4ZM108.8 32.3L109.7 32.3L110.6 32.5L111.5 32.7L112.4 33.1L113.3 33.7L114.2 34.4L115.2 35.3L116.1 36.4L117 37.6L117.9 39.1L118.8 40.7L119.7 42.6L120.6 44.7L121.5 47L121.5 47.2L120.6 45.8L119.7 44.7L118.8 43.7L117.9 42.8L117 42L116.1 41.2L115.2 40.5L114.2 39.8L113.3 39L112.4 38.2L111.5 37.3L110.6 36.4L109.7 35.5L108.8 34.6ZM121.7 28.4L122.6 28.4L123.5 28.5L124.4 28.7L125.3 29L126.2 29.4L127.1 29.9L127.9 30.5L128.8 31.2L129.7 32.1L130.6 33.1L131.5 34.3L132.4 35.6L133.3 37L134.2 38.6L134.2 38.8L133.3 38L132.4 37.5L131.5 37.1L130.6 36.7L129.7 36.4L128.8 36.2L127.9 35.9L127.1 35.6L126.2 35.3L125.3 34.9L124.4 34.5L123.5 33.9L122.6 33.4L121.7 32.8ZM121.7 28.4L124.5 28.3L126.5 29.5L126 33.5L123.5 34.8L121.7 33Z" fill="#0b0b0b"/>
<path d="M38.6 28L38.6 52.8M39.6 28L39.6 42M36.4 28L36.4 57.5M86.9 28L86.9 29.4M96.1 28L96.1 30.6M108.8 28L108.8 32.8M121.7 28L121.7 28.9M124.4 34.5L124.4 40" stroke="#222" stroke-width="0.45" fill="none" opacity="0.6"/>
<path d="M7.6 64.3L7.6 92L8 92L8.1 106L8.4 106L8.6 115.5L12.1 114.9L11.9 114L11.9 113.1L11.7 112.2L12.2 111.3L11.8 110.4L11.9 109.5L12.2 108.6L11.8 107.7L11.7 106.8L11.1 105.9L11.7 105L11.2 104.1L11.7 103.2L11.4 102.3L11.4 101.4L11.3 100.5L11.5 99.6L11.6 98.7L11.6 97.8L11.6 96.9L11.2 96L11.5 95.1L11.2 94.2L11.4 93.3L11.6 92.4L10.5 91.5L10.6 90.6L11 89.7L10.6 88.8L10.9 87.9L10.6 87L10.7 86.1L10.5 85.2L10.9 84.3L10.7 83.4L10.7 82.5L10.4 81.6L11 80.7L10.9 79.8L10.5 78.9L10.4 78L10.5 77.1L10.9 76.2L10.5 75.3L11 74.4L10.5 73.5L10.7 72.6L10.9 71.7L10.6 70.8L10.9 69.9L10.7 69L10.7 68.1L10.4 67.2L10.8 66.3L10.9 65.4L10.7 64.5ZM8.4 64.5L8.4 65.9L13.6 65.6L15.6 65.3L13.2 64.8ZM8.4 67.3L8.4 68.4L11.6 68.1L12.9 68L11.3 67.6ZM8.4 70.8L8.4 72.4L13.2 72L15 71.7L12.8 71.2ZM8.4 73.1L8.4 74.7L12.1 74.3L13.6 74L11.8 73.5ZM8.4 76.4L8.4 77.7L10.6 77.4L11.6 77.2L10.4 76.7ZM8.4 80.4L8.4 81.5L10.6 81.2L11.5 81L10.4 80.6ZM8.4 82.6L8.4 84.3L12.2 83.9L13.8 83.6L11.9 83.1ZM8.4 85.2L8.4 86.3L10.3 86L11.1 85.8L10.1 85.4ZM8.4 87.8L8.4 88.9L11.6 88.6L12.9 88.4L11.3 88.1ZM8.4 90.1L8.4 91.8L10.4 91.4L11.3 91.1L10.2 90.5ZM8.4 93.6L8.4 95.3L9.9 94.9L10.7 94.6L9.8 94ZM8.4 95.7L8.4 97.5L10.5 97L11.5 96.7L10.3 96.1ZM8.4 99.6L8.4 100.9L11.2 100.6L12.5 100.3L11 99.9ZM8.4 102.1L8.4 103.1L11 102.8L12.2 102.7L10.8 102.3ZM8.4 104.5L8.4 105.4L10.5 105.2L11.5 105L10.3 104.7ZM8.4 106.9L8.4 108.5L11.4 108.1L12.6 107.8L11.1 107.3ZM8.4 110L8.4 111.4L11 111L12.2 110.8L10.8 110.4ZM8.4 112.3L8.4 113.5L11 113.2L12.1 113L10.7 112.6ZM8.4 70.4L8.4 72L12.5 71.7L14.6 71.3L12.5 70.9ZM8.4 72.8L8.4 74.2L13.8 74L16.4 73.7L13.8 73.2ZM8.4 75.6L8.4 77.2L13.1 76.9L15.4 76.5L13.1 76.1ZM8.4 78.9L8.4 80.9L16 80.5L19.6 80L16 79.5ZM8.4 82.5L8.4 84L13.8 83.8L16.4 83.4L13.8 83ZM8.4 86.6L8.4 88.2L11.8 87.9L13.6 87.5L11.8 87.1ZM8.4 89.8L8.4 91.4L13.1 91.1L15.4 90.8L13.1 90.3ZM8.3 114.9L8.3 115.6L8.4 116.2L8.5 116.9L8.7 117.6L8.9 118.3L9.2 118.9L9.6 119.6L10.1 120.3L10.6 120.9L11.3 121.6L12 122.3L12.8 123L13.7 123.6L14.7 124.3L14.9 124.3L14.3 123.6L13.9 123L13.6 122.3L13.3 121.6L13 120.9L12.8 120.3L12.6 119.6L12.3 118.9L12.1 118.3L11.8 117.6L11.5 116.9L11.1 116.2L10.7 115.6L10.3 114.9ZM9.3 124.1L9.3 125.1L9.4 126L9.5 127L9.7 128L10 128.9L10.4 129.9L10.8 130.8L11.4 131.8L12 132.8L12.8 133.7L13.6 134.7L14.6 135.7L15.7 136.6L16.9 137.6L17 137.6L16.3 136.6L15.8 135.7L15.4 134.7L15 133.7L14.6 132.8L14.3 131.8L14 130.8L13.7 129.9L13.4 128.9L13 128L12.6 127L12.1 126L11.6 125.1L11.1 124.1ZM11 136.8L11.1 137.7L11.2 138.6L11.4 139.5L11.7 140.4L12.1 141.3L12.7 142.2L13.4 143.2L14.3 144.1L15.3 145L16.5 145.9L17.8 146.8L19.3 147.7L21 148.6L22.8 149.5L23 149.5L21.9 148.6L20.9 147.7L20.2 146.8L19.4 145.9L18.8 145L18.2 144.1L17.6 143.2L17 142.2L16.4 141.3L15.8 140.4L15.1 139.5L14.3 138.6L13.6 137.7L12.9 136.8ZM7.9 149.7L7.9 150.6L8 151.5L8.2 152.4L8.4 153.3L8.7 154.2L9.1 155.1L9.6 155.9L10.2 156.8L10.9 157.7L11.7 158.6L12.6 159.5L13.6 160.4L14.8 161.3L16.1 162.2L16.2 162.2L15.6 161.3L15.2 160.4L14.9 159.5L14.6 158.6L14.4 157.7L14.1 156.8L13.9 155.9L13.7 155.1L13.4 154.2L13.1 153.3L12.8 152.4L12.4 151.5L11.9 150.6L11.4 149.7ZM7.9 149.7L7.8 152.5L8.8 154.5L12 154L13 151.5L11.6 149.7Z" fill="#0b0b0b"/>
<path d="M7.6 66.6L27.4 66.6M7.6 67.6L18.8 67.6M7.6 64.4L31.2 64.4M7.6 114.9L8.7 114.9M7.6 124.1L9.7 124.1M7.6 136.8L11.4 136.8M7.6 149.7L8.3 149.7M12.8 152.4L17.2 152.4" stroke="#222" stroke-width="0.45" fill="none" opacity="0.6"/>
<path d="M36.3 28.2H134.7" stroke="#333" stroke-width="0.4" opacity="0.8"/>
<path d="M7.8 64.3V162.7" stroke="#333" stroke-width="0.4" opacity="0.8"/>
<rect x="138.4" y="40.1" width="3.4" height="68.2" fill="#8c8a78"/>
<path d="M141.9 40.1V108.3" stroke="#222" stroke-width="0.7"/>
<path d="M141.9 40.5H143.9" stroke="#222" stroke-width="0.7"/>
<text x="147.2" y="42" font-size="4.1" fill="#222">1</text>
<path d="M141.9 53.4H143.9" stroke="#222" stroke-width="0.7"/>
<text x="147.2" y="54.9" font-size="4.1" fill="#222">0.8</text>
<path d="M141.9 67H143.9" stroke="#222" stroke-width="0.7"/>
<text x="147.2" y="68.5" font-size="4.1" fill="#222">0.6</text>
<path d="M141.9 80.6H143.9" stroke="#222" stroke-width="0.7"/>
<text x="147.2" y="82.1" font-size="4.1" fill="#222">0.4</text>
<path d="M141.9 94.4H143.9" stroke="#222" stroke-width="0.7"/>
<text x="147.2" y="95.9" font-size="4.1" fill="#222">0.2</text>
<path d="M141.9 108H143.9" stroke="#222" stroke-width="0.7"/>
<text x="147.2" y="109.5" font-size="4.1" fill="#222">0</text>
<text transform="translate(161.8 74.7) rotate(-90)" font-size="4.7" text-anchor="middle" fill="#222">Similarity</text>
</g>
<g id="pb">
<text x="166.1" y="17.2" font-size="11.6" font-weight="bold" fill="#000">B</text>
<g shape-rendering="crispEdges">
<rect x="217.9" y="27.8" width="5.4" height="5.6" fill="#c4281c"/>
<rect x="223.2" y="27.8" width="5.4" height="5.6" fill="#fad6c6"/>
<rect x="233.9" y="27.8" width="5.4" height="5.6" fill="#fce1d5"/>
<rect x="239.3" y="27.8" width="5.4" height="5.6" fill="#fad6c6"/>
<rect x="250" y="27.8" width="5.4" height="5.6" fill="#fce1d5"/>
<rect x="255.3" y="27.8" width="5.4" height="5.6" fill="#fad6c6"/>
<rect x="260.7" y="27.8" width="5.4" height="5.6" fill="#fdece4"/>
<rect x="271.4" y="27.8" width="5.4" height="5.6" fill="#e2edf9"/>
<rect x="276.7" y="27.8" width="5.4" height="5.6" fill="#f1f6fc"/>
<rect x="282.1" y="27.8" width="5.4" height="5.6" fill="#f1f6fc"/>
<rect x="287.4" y="27.8" width="5.4" height="5.6" fill="#c4daf2"/>
<rect x="292.8" y="27.8" width="5.4" height="5.6" fill="#c4daf2"/>
<rect x="308.8" y="27.8" width="5.4" height="5.6" fill="#fef6f2"/>
<rect x="319.5" y="27.8" width="5.4" height="5.6" fill="#e2edf9"/>
<rect x="324.9" y="27.8" width="5.4" height="5.6" fill="#fef6f2"/>
<rect x="217.9" y="33.3" width="5.4" height="5.6" fill="#fad6c6"/>
<rect x="223.2" y="33.3" width="5.4" height="5.6" fill="#c4281c"/>
<rect x="233.9" y="33.3" width="5.4" height="5.6" fill="#fef9f7"/>
<rect x="255.3" y="33.3" width="5.4" height="5.6" fill="#fef6f2"/>
<rect x="266" y="33.3" width="5.4" height="5.6" fill="#e2edf9"/>
<rect x="271.4" y="33.3" width="5.4" height="5.6" fill="#d4e4f6"/>
<rect x="276.7" y="33.3" width="5.4" height="5.6" fill="#f1f6fc"/>
<rect x="282.1" y="33.3" width="5.4" height="5.6" fill="#f1f6fc"/>
<rect x="287.4" y="33.3" width="5.4" height="5.6" fill="#d4e4f6"/>
<rect x="292.8" y="33.3" width="5.4" height="5.6" fill="#d4e4f6"/>
<rect x="298.1" y="33.3" width="5.4" height="5.6" fill="#f6fafe"/>
<rect x="308.8" y="33.3" width="5.4" height="5.6" fill="#fdece4"/>
<rect x="319.5" y="33.3" width="5.4" height="5.6" fill="#e2edf9"/>
<rect x="324.9" y="33.3" width="5.4" height="5.6" fill="#fdece4"/>
<rect x="228.6" y="38.7" width="5.4" height="5.6" fill="#d7452d"/>
<rect x="233.9" y="38.7" width="5.4" height="5.6" fill="#ed997b"/>
<rect x="239.3" y="38.7" width="5.4" height="5.6" fill="#fdece4"/>
<rect x="244.6" y="38.7" width="5.4" height="5.6" fill="#fce1d5"/>
<rect x="250" y="38.7" width="5.4" height="5.6" fill="#fad6c6"/>
<rect x="255.3" y="38.7" width="5.4" height="5.6" fill="#f5b99f"/>
<rect x="260.7" y="38.7" width="5.4" height="5.6" fill="#fad6c6"/>
<rect x="266" y="38.7" width="5.4" height="5.6" fill="#d4e4f6"/>
<rect x="271.4" y="38.7" width="5.4" height="5.6" fill="#c4daf2"/>
<rect x="276.7" y="38.7" width="5.4" height="5.6" fill="#fef6f2"/>
<rect x="282.1" y="38.7" width="5.4" height="5.6" fill="#e2edf9"/>
<rect x="287.4" y="38.7" width="5.4" height="5.6" fill="#e2edf9"/>
<rect x="298.1" y="38.7" width="5.4" height="5.6" fill="#d4e4f6"/>
<rect x="303.5" y="38.7" width="5.4" height="5.6" fill="#e2edf9"/>
<rect x="308.8" y="38.7" width="5.4" height="5.6" fill="#fef6f2"/>
<rect x="314.2" y="38.7" width="5.4" height="5.6" fill="#e2edf9"/>
<rect x="319.5" y="38.7" width="5.4" height="5.6" fill="#e2edf9"/>
<rect x="324.9" y="38.7" width="5.4" height="5.6" fill="#fef6f2"/>
<rect x="217.9" y="44.2" width="5.4" height="5.6" fill="#fce1d5"/>
<rect x="223.2" y="44.2" width="5.4" height="5.6" fill="#fef9f7"/>
<rect x="228.6" y="44.2" width="5.4" height="5.6" fill="#ed997b"/>
<rect x="233.9" y="44.2" width="5.4" height="5.6" fill="#d03220"/>
<rect x="239.3" y="44.2" width="5.4" height="5.6" fill="#fce1d5"/>
<rect x="250" y="44.2" width="5.4" height="5.6" fill="#fad6c6"/>
<rect x="255.3" y="44.2" width="5.4" height="5.6" fill="#ed997b"/>
<rect x="260.7" y="44.2" width="5.4" height="5.6" fill="#fce1d5"/>
<rect x="266" y="44.2" width="5.4" height="5.6" fill="#e2edf9"/>
<rect x="271.4" y="44.2" width="5.4" height="5.6" fill="#c4daf2"/>
<rect x="282.1" y="44.2" width="5.4" height="5.6" fill="#b4d0ee"/>
<rect x="287.4" y="44.2" width="5.4" height="5.6" fill="#b4d0ee"/>
<rect x="292.8" y="44.2" width="5.4" height="5.6" fill="#b4d0ee"/>
<rect x="298.1" y="44.2" width="5.4" height="5.6" fill="#e2edf9"/>
<rect x="314.2" y="44.2" width="5.4" height="5.6" fill="#f1f6fc"/>
<rect x="319.5" y="44.2" width="5.4" height="5.6" fill="#c4daf2"/>
<rect x="217.9" y="49.7" width="5.4" height="5.6" fill="#fad6c6"/>
<rect x="228.6" y="49.7" width="5.4" height="5.6" fill="#fdece4"/>
<rect x="233.9" y="49.7" width="5.4" height="5.6" fill="#fce1d5"/>
<rect x="239.3" y="49.7" width="5.4" height="5.6" fill="#d03220"/>
<rect x="250" y="49.7" width="5.4" height="5.6" fill="#fef6f2"/>
<rect x="255.3" y="49.7" width="5.4" height="5.6" fill="#f7c7b3"/>
<rect x="260.7" y="49.7" width="5.4" height="5.6" fill="#fef6f2"/>
<rect x="266" y="49.7" width="5.4" height="5.6" fill="#e2edf9"/>
<rect x="271.4" y="49.7" width="5.4" height="5.6" fill="#c4daf2"/>
<rect x="276.7" y="49.7" width="5.4" height="5.6" fill="#f1f6fc"/>
<rect x="282.1" y="49.7" width="5.4" height="5.6" fill="#a0c2e8"/>
<rect x="287.4" y="49.7" width="5.4" height="5.6" fill="#8cb4e2"/>
<rect x="292.8" y="49.7" width="5.4" height="5.6" fill="#b4d0ee"/>
<rect x="298.1" y="49.7" width="5.4" height="5.6" fill="#e2edf9"/>
<rect x="319.5" y="49.7" width="5.4" height="5.6" fill="#c4daf2"/>
<rect x="324.9" y="49.7" width="5.4" height="5.6" fill="#fef9f7"/>
<rect x="228.6" y="55.1" width="5.4" height="5.6" fill="#fce1d5"/>
<rect x="244.6" y="55.1" width="5.4" height="5.6" fill="#d03220"/>
<rect x="255.3" y="55.1" width="5.4" height="5.6" fill="#fdece4"/>
<rect x="260.7" y="55.1" width="5.4" height="5.6" fill="#fdece4"/>
<rect x="266" y="55.1" width="5.4" height="5.6" fill="#f1f6fc"/>
<rect x="271.4" y="55.1" width="5.4" height="5.6" fill="#c4daf2"/>
<rect x="282.1" y="55.1" width="5.4" height="5.6" fill="#b4d0ee"/>
<rect x="287.4" y="55.1" width="5.4" height="5.6" fill="#c4daf2"/>
<rect x="292.8" y="55.1" width="5.4" height="5.6" fill="#f6fafe"/>
<rect x="298.1" y="55.1" width="5.4" height="5.6" fill="#b4d0ee"/>
<rect x="303.5" y="55.1" width="5.4" height="5.6" fill="#fef6f2"/>
<rect x="308.8" y="55.1" width="5.4" height="5.6" fill="#fef6f2"/>
<rect x="324.9" y="55.1" width="5.4" height="5.6" fill="#fad6c6"/>
<rect x="217.9" y="60.6" width="5.4" height="5.6" fill="#fce1d5"/>
<rect x="228.6" y="60.6" width="5.4" height="5.6" fill="#fad6c6"/>
<rect x="233.9" y="60.6" width="5.4" height="5.6" fill="#fad6c6"/>
<rect x="239.3" y="60.6" width="5.4" height="5.6" fill="#fef6f2"/>
<rect x="250" y="60.6" width="5.4" height="5.6" fill="#d03220"/>
<rect x="255.3" y="60.6" width="5.4" height="5.6" fill="#fdece4"/>
<rect x="271.4" y="60.6" width="5.4" height="5.6" fill="#d4e4f6"/>
<rect x="276.7" y="60.6" width="5.4" height="5.6" fill="#f6fafe"/>
<rect x="282.1" y="60.6" width="5.4" height="5.6" fill="#e2edf9"/>
<rect x="287.4" y="60.6" width="5.4" height="5.6" fill="#e2edf9"/>
<rect x="292.8" y="60.6" width="5.4" height="5.6" fill="#e2edf9"/>
<rect x="308.8" y="60.6" width="5.4" height="5.6" fill="#fef9f7"/>
<rect x="217.9" y="66.1" width="5.4" height="5.6" fill="#fad6c6"/>
<rect x="223.2" y="66.1" width="5.4" height="5.6" fill="#fef6f2"/>
<rect x="228.6" y="66.1" width="5.4" height="5.6" fill="#f5b99f"/>
<rect x="233.9" y="66.1" width="5.4" height="5.6" fill="#ed997b"/>
<rect x="239.3" y="66.1" width="5.4" height="5.6" fill="#f7c7b3"/>
<rect x="244.6" y="66.1" width="5.4" height="5.6" fill="#fdece4"/>
<rect x="250" y="66.1" width="5.4" height="5.6" fill="#fdece4"/>
<rect x="255.3" y="66.1" width="5.4" height="5.6" fill="#d7452d"/>
<rect x="260.7" y="66.1" width="5.4" height="5.6" fill="#e16a4d"/>
<rect x="266" y="66.1" width="5.4" height="5.6" fill="#e9896b"/>
<rect x="271.4" y="66.1" width="5.4" height="5.6" fill="#e2edf9"/>
<rect x="276.7" y="66.1" width="5.4" height="5.6" fill="#d4e4f6"/>
<rect x="282.1" y="66.1" width="5.4" height="5.6" fill="#a0c2e8"/>
<rect x="287.4" y="66.1" width="5.4" height="5.6" fill="#7aa6dc"/>
<rect x="292.8" y="66.1" width="5.4" height="5.6" fill="#6898d6"/>
<rect x="298.1" y="66.1" width="5.4" height="5.6" fill="#d4e4f6"/>
<rect x="303.5" y="66.1" width="5.4" height="5.6" fill="#f6fafe"/>
<rect x="308.8" y="66.1" width="5.4" height="5.6" fill="#fef9f7"/>
<rect x="319.5" y="66.1" width="5.4" height="5.6" fill="#7aa6dc"/>
<rect x="217.9" y="71.5" width="5.4" height="5.6" fill="#fdece4"/>
<rect x="228.6" y="71.5" width="5.4" height="5.6" fill="#fad6c6"/>
<rect x="233.9" y="71.5" width="5.4" height="5.6" fill="#fce1d5"/>
<rect x="239.3" y="71.5" width="5.4" height="5.6" fill="#fef6f2"/>
<rect x="244.6" y="71.5" width="5.4" height="5.6" fill="#fdece4"/>
<rect x="255.3" y="71.5" width="5.4" height="5.6" fill="#e16a4d"/>
<rect x="260.7" y="71.5" width="5.4" height="5.6" fill="#d03220"/>
<rect x="266" y="71.5" width="5.4" height="5.6" fill="#da4e34"/>
<rect x="271.4" y="71.5" width="5.4" height="5.6" fill="#f1f6fc"/>
<rect x="276.7" y="71.5" width="5.4" height="5.6" fill="#7aa6dc"/>
<rect x="282.1" y="71.5" width="5.4" height="5.6" fill="#d4e4f6"/>
<rect x="287.4" y="71.5" width="5.4" height="5.6" fill="#7aa6dc"/>
<rect x="292.8" y="71.5" width="5.4" height="5.6" fill="#6898d6"/>
<rect x="298.1" y="71.5" width="5.4" height="5.6" fill="#fce1d5"/>
<rect x="303.5" y="71.5" width="5.4" height="5.6" fill="#fce1d5"/>
<rect x="314.2" y="71.5" width="5.4" height="5.6" fill="#f2aa8c"/>
<rect x="319.5" y="71.5" width="5.4" height="5.6" fill="#e2edf9"/>
<rect x="324.9" y="71.5" width="5.4" height="5.6" fill="#fef9f7"/>
<rect x="223.2" y="77" width="5.4" height="5.6" fill="#e2edf9"/>
<rect x="228.6" y="77" width="5.4" height="5.6" fill="#d4e4f6"/>
<rect x="233.9" y="77" width="5.4" height="5.6" fill="#e2edf9"/>
<rect x="239.3" y="77" width="5.4" height="5.6" fill="#e2edf9"/>
<rect x="244.6" y="77" width="5.4" height="5.6" fill="#f1f6fc"/>
<rect x="255.3" y="77" width="5.4" height="5.6" fill="#e9896b"/>
<rect x="260.7" y="77" width="5.4" height="5.6" fill="#da4e34"/>
<rect x="266" y="77" width="5.4" height="5.6" fill="#d33b27"/>
<rect x="276.7" y="77" width="5.4" height="5.6" fill="#a0c2e8"/>
<rect x="282.1" y="77" width="5.4" height="5.6" fill="#e2edf9"/>
<rect x="287.4" y="77" width="5.4" height="5.6" fill="#c4daf2"/>
<rect x="292.8" y="77" width="5.4" height="5.6" fill="#a0c2e8"/>
<rect x="298.1" y="77" width="5.4" height="5.6" fill="#fef9f7"/>
<rect x="314.2" y="77" width="5.4" height="5.6" fill="#f5b99f"/>
<rect x="319.5" y="77" width="5.4" height="5.6" fill="#e2edf9"/>
<rect x="217.9" y="82.5" width="5.4" height="5.6" fill="#e2edf9"/>
<rect x="223.2" y="82.5" width="5.4" height="5.6" fill="#d4e4f6"/>
<rect x="228.6" y="82.5" width="5.4" height="5.6" fill="#c4daf2"/>
<rect x="233.9" y="82.5" width="5.4" height="5.6" fill="#c4daf2"/>
<rect x="239.3" y="82.5" width="5.4" height="5.6" fill="#c4daf2"/>
<rect x="244.6" y="82.5" width="5.4" height="5.6" fill="#c4daf2"/>
<rect x="250" y="82.5" width="5.4" height="5.6" fill="#d4e4f6"/>
<rect x="255.3" y="82.5" width="5.4" height="5.6" fill="#e2edf9"/>
<rect x="260.7" y="82.5" width="5.4" height="5.6" fill="#f1f6fc"/>
<rect x="271.4" y="82.5" width="5.4" height="5.6" fill="#d03220"/>
<rect x="282.1" y="82.5" width="5.4" height="5.6" fill="#fce1d5"/>
<rect x="287.4" y="82.5" width="5.4" height="5.6" fill="#fad6c6"/>
<rect x="292.8" y="82.5" width="5.4" height="5.6" fill="#fad6c6"/>
<rect x="298.1" y="82.5" width="5.4" height="5.6" fill="#fad6c6"/>
<rect x="303.5" y="82.5" width="5.4" height="5.6" fill="#fef9f7"/>
<rect x="308.8" y="82.5" width="5.4" height="5.6" fill="#fef6f2"/>
<rect x="314.2" y="82.5" width="5.4" height="5.6" fill="#fef6f2"/>
<rect x="319.5" y="82.5" width="5.4" height="5.6" fill="#fdece4"/>
<rect x="217.9" y="87.9" width="5.4" height="5.6" fill="#f1f6fc"/>
<rect x="223.2" y="87.9" width="5.4" height="5.6" fill="#f1f6fc"/>
<rect x="228.6" y="87.9" width="5.4" height="5.6" fill="#fef6f2"/>
<rect x="239.3" y="87.9" width="5.4" height="5.6" fill="#f1f6fc"/>
<rect x="250" y="87.9" width="5.4" height="5.6" fill="#f6fafe"/>
<rect x="255.3" y="87.9" width="5.4" height="5.6" fill="#d4e4f6"/>
<rect x="260.7" y="87.9" width="5.4" height="5.6" fill="#7aa6dc"/>
<rect x="266" y="87.9" width="5.4" height="5.6" fill="#a0c2e8"/>
<rect x="276.7" y="87.9" width="5.4" height="5.6" fill="#d03220"/>
<rect x="287.4" y="87.9" width="5.4" height="5.6" fill="#f2aa8c"/>
<rect x="292.8" y="87.9" width="5.4" height="5.6" fill="#f5b99f"/>
<rect x="298.1" y="87.9" width="5.4" height="5.6" fill="#8cb4e2"/>
<rect x="303.5" y="87.9" width="5.4" height="5.6" fill="#b4d0ee"/>
<rect x="308.8" y="87.9" width="5.4" height="5.6" fill="#d4e4f6"/>
<rect x="314.2" y="87.9" width="5.4" height="5.6" fill="#6898d6"/>
<rect x="319.5" y="87.9" width="5.4" height="5.6" fill="#e2edf9"/>
<rect x="217.9" y="93.4" width="5.4" height="5.6" fill="#f1f6fc"/>
<rect x="223.2" y="93.4" width="5.4" height="5.6" fill="#f1f6fc"/>
<rect x="228.6" y="93.4" width="5.4" height="5.6" fill="#e2edf9"/>
<rect x="233.9" y="93.4" width="5.4" height="5.6" fill="#b4d0ee"/>
<rect x="239.3" y="93.4" width="5.4" height="5.6" fill="#a0c2e8"/>
<rect x="244.6" y="93.4" width="5.4" height="5.6" fill="#b4d0ee"/>
<rect x="250" y="93.4" width="5.4" height="5.6" fill="#e2edf9"/>
<rect x="255.3" y="93.4" width="5.4" height="5.6" fill="#a0c2e8"/>
<rect x="260.7" y="93.4" width="5.4" height="5.6" fill="#d4e4f6"/>
<rect x="266" y="93.4" width="5.4" height="5.6" fill="#e2edf9"/>
<rect x="271.4" y="93.4" width="5.4" height="5.6" fill="#fce1d5"/>
<rect x="282.1" y="93.4" width="5.4" height="5.6" fill="#d03220"/>
<rect x="287.4" y="93.4" width="5.4" height="5.6" fill="#ed997b"/>
<rect x="292.8" y="93.4" width="5.4" height="5.6" fill="#f5b99f"/>
<rect x="298.1" y="93.4" width="5.4" height="5.6" fill="#fad6c6"/>
<rect x="303.5" y="93.4" width="5.4" height="5.6" fill="#fef6f2"/>
<rect x="308.8" y="93.4" width="5.4" height="5.6" fill="#f6fafe"/>
<rect x="314.2" y="93.4" width="5.4" height="5.6" fill="#e2edf9"/>
<rect x="217.9" y="98.9" width="5.4" height="5.6" fill="#c4daf2"/>
<rect x="223.2" y="98.9" width="5.4" height="5.6" fill="#d4e4f6"/>
<rect x="228.6" y="98.9" width="5.4" height="5.6" fill="#e2edf9"/>
<rect x="233.9" y="98.9" width="5.4" height="5.6" fill="#b4d0ee"/>
<rect x="239.3" y="98.9" width="5.4" height="5.6" fill="#8cb4e2"/>
<rect x="244.6" y="98.9" width="5.4" height="5.6" fill="#c4daf2"/>
<rect x="250" y="98.9" width="5.4" height="5.6" fill="#e2edf9"/>
<rect x="255.3" y="98.9" width="5.4" height="5.6" fill="#7aa6dc"/>
<rect x="260.7" y="98.9" width="5.4" height="5.6" fill="#7aa6dc"/>
<rect x="266" y="98.9" width="5.4" height="5.6" fill="#c4daf2"/>
<rect x="271.4" y="98.9" width="5.4" height="5.6" fill="#fad6c6"/>
<rect x="276.7" y="98.9" width="5.4" height="5.6" fill="#f2aa8c"/>
<rect x="282.1" y="98.9" width="5.4" height="5.6" fill="#ed997b"/>
<rect x="287.4" y="98.9" width="5.4" height="5.6" fill="#d03220"/>
<rect x="292.8" y="98.9" width="5.4" height="5.6" fill="#e16a4d"/>
<rect x="298.1" y="98.9" width="5.4" height="5.6" fill="#f6fafe"/>
<rect x="303.5" y="98.9" width="5.4" height="5.6" fill="#f1f6fc"/>
<rect x="308.8" y="98.9" width="5.4" height="5.6" fill="#e2edf9"/>
<rect x="314.2" y="98.9" width="5.4" height="5.6" fill="#e2edf9"/>
<rect x="319.5" y="98.9" width="5.4" height="5.6" fill="#fef6f2"/>
<rect x="217.9" y="104.3" width="5.4" height="5.6" fill="#c4daf2"/>
<rect x="223.2" y="104.3" width="5.4" height="5.6" fill="#d4e4f6"/>
<rect x="233.9" y="104.3" width="5.4" height="5.6" fill="#b4d0ee"/>
<rect x="239.3" y="104.3" width="5.4" height="5.6" fill="#b4d0ee"/>
<rect x="244.6" y="104.3" width="5.4" height="5.6" fill="#f6fafe"/>
<rect x="250" y="104.3" width="5.4" height="5.6" fill="#e2edf9"/>
<rect x="255.3" y="104.3" width="5.4" height="5.6" fill="#6898d6"/>
<rect x="260.7" y="104.3" width="5.4" height="5.6" fill="#6898d6"/>
<rect x="266" y="104.3" width="5.4" height="5.6" fill="#a0c2e8"/>
<rect x="271.4" y="104.3" width="5.4" height="5.6" fill="#fad6c6"/>
<rect x="276.7" y="104.3" width="5.4" height="5.6" fill="#f5b99f"/>
<rect x="282.1" y="104.3" width="5.4" height="5.6" fill="#f5b99f"/>
<rect x="287.4" y="104.3" width="5.4" height="5.6" fill="#e16a4d"/>
<rect x="292.8" y="104.3" width="5.4" height="5.6" fill="#d03220"/>
<rect x="303.5" y="104.3" width="5.4" height="5.6" fill="#f6fafe"/>
<rect x="314.2" y="104.3" width="5.4" height="5.6" fill="#f6fafe"/>
<rect x="319.5" y="104.3" width="5.4" height="5.6" fill="#f5b99f"/>
<rect x="223.2" y="109.8" width="5.4" height="5.6" fill="#f6fafe"/>
<rect x="228.6" y="109.8" width="5.4" height="5.6" fill="#d4e4f6"/>
<rect x="233.9" y="109.8" width="5.4" height="5.6" fill="#e2edf9"/>
<rect x="239.3" y="109.8" width="5.4" height="5.6" fill="#e2edf9"/>
<rect x="244.6" y="109.8" width="5.4" height="5.6" fill="#b4d0ee"/>
<rect x="255.3" y="109.8" width="5.4" height="5.6" fill="#d4e4f6"/>
<rect x="260.7" y="109.8" width="5.4" height="5.6" fill="#fce1d5"/>
<rect x="266" y="109.8" width="5.4" height="5.6" fill="#fef9f7"/>
<rect x="271.4" y="109.8" width="5.4" height="5.6" fill="#fad6c6"/>
<rect x="276.7" y="109.8" width="5.4" height="5.6" fill="#8cb4e2"/>
<rect x="282.1" y="109.8" width="5.4" height="5.6" fill="#fad6c6"/>
<rect x="287.4" y="109.8" width="5.4" height="5.6" fill="#f6fafe"/>
<rect x="298.1" y="109.8" width="5.4" height="5.6" fill="#d03220"/>
<rect x="303.5" y="109.8" width="5.4" height="5.6" fill="#e4785a"/>
<rect x="314.2" y="109.8" width="5.4" height="5.6" fill="#fdece4"/>
<rect x="319.5" y="109.8" width="5.4" height="5.6" fill="#fce1d5"/>
<rect x="228.6" y="115.3" width="5.4" height="5.6" fill="#e2edf9"/>
<rect x="244.6" y="115.3" width="5.4" height="5.6" fill="#fef6f2"/>
<rect x="255.3" y="115.3" width="5.4" height="5.6" fill="#f6fafe"/>
<rect x="260.7" y="115.3" width="5.4" height="5.6" fill="#fce1d5"/>
<rect x="271.4" y="115.3" width="5.4" height="5.6" fill="#fef9f7"/>
<rect x="276.7" y="115.3" width="5.4" height="5.6" fill="#b4d0ee"/>
<rect x="282.1" y="115.3" width="5.4" height="5.6" fill="#fef6f2"/>
<rect x="287.4" y="115.3" width="5.4" height="5.6" fill="#f1f6fc"/>
<rect x="292.8" y="115.3" width="5.4" height="5.6" fill="#f6fafe"/>
<rect x="298.1" y="115.3" width="5.4" height="5.6" fill="#e4785a"/>
<rect x="303.5" y="115.3" width="5.4" height="5.6" fill="#d03220"/>
<rect x="314.2" y="115.3" width="5.4" height="5.6" fill="#fef6f2"/>
<rect x="319.5" y="115.3" width="5.4" height="5.6" fill="#fdece4"/>
<rect x="217.9" y="120.7" width="5.4" height="5.6" fill="#fef6f2"/>
<rect x="223.2" y="120.7" width="5.4" height="5.6" fill="#fdece4"/>
<rect x="228.6" y="120.7" width="5.4" height="5.6" fill="#fef6f2"/>
<rect x="244.6" y="120.7" width="5.4" height="5.6" fill="#fef6f2"/>
<rect x="250" y="120.7" width="5.4" height="5.6" fill="#fef9f7"/>
<rect x="255.3" y="120.7" width="5.4" height="5.6" fill="#fef9f7"/>
<rect x="271.4" y="120.7" width="5.4" height="5.6" fill="#fef6f2"/>
<rect x="276.7" y="120.7" width="5.4" height="5.6" fill="#d4e4f6"/>
<rect x="282.1" y="120.7" width="5.4" height="5.6" fill="#f6fafe"/>
<rect x="287.4" y="120.7" width="5.4" height="5.6" fill="#e2edf9"/>
<rect x="308.8" y="120.7" width="5.4" height="5.6" fill="#d03220"/>
<rect x="314.2" y="120.7" width="5.4" height="5.6" fill="#fef6f2"/>
<rect x="319.5" y="120.7" width="5.4" height="5.6" fill="#fdece4"/>
<rect x="324.9" y="120.7" width="5.4" height="5.6" fill="#ed997b"/>
<rect x="228.6" y="126.2" width="5.4" height="5.6" fill="#e2edf9"/>
<rect x="233.9" y="126.2" width="5.4" height="5.6" fill="#f1f6fc"/>
<rect x="260.7" y="126.2" width="5.4" height="5.6" fill="#f2aa8c"/>
<rect x="266" y="126.2" width="5.4" height="5.6" fill="#f5b99f"/>
<rect x="271.4" y="126.2" width="5.4" height="5.6" fill="#fef6f2"/>
<rect x="276.7" y="126.2" width="5.4" height="5.6" fill="#6898d6"/>
<rect x="282.1" y="126.2" width="5.4" height="5.6" fill="#e2edf9"/>
<rect x="287.4" y="126.2" width="5.4" height="5.6" fill="#e2edf9"/>
<rect x="292.8" y="126.2" width="5.4" height="5.6" fill="#f6fafe"/>
<rect x="298.1" y="126.2" width="5.4" height="5.6" fill="#fdece4"/>
<rect x="303.5" y="126.2" width="5.4" height="5.6" fill="#fef6f2"/>
<rect x="308.8" y="126.2" width="5.4" height="5.6" fill="#fef6f2"/>
<rect x="314.2" y="126.2" width="5.4" height="5.6" fill="#d03220"/>
<rect x="319.5" y="126.2" width="5.4" height="5.6" fill="#e4785a"/>
<rect x="217.9" y="131.7" width="5.4" height="5.6" fill="#e2edf9"/>
<rect x="223.2" y="131.7" width="5.4" height="5.6" fill="#e2edf9"/>
<rect x="228.6" y="131.7" width="5.4" height="5.6" fill="#e2edf9"/>
<rect x="233.9" y="131.7" width="5.4" height="5.6" fill="#c4daf2"/>
<rect x="239.3" y="131.7" width="5.4" height="5.6" fill="#c4daf2"/>
<rect x="255.3" y="131.7" width="5.4" height="5.6" fill="#7aa6dc"/>
<rect x="260.7" y="131.7" width="5.4" height="5.6" fill="#e2edf9"/>
<rect x="266" y="131.7" width="5.4" height="5.6" fill="#e2edf9"/>
<rect x="271.4" y="131.7" width="5.4" height="5.6" fill="#fdece4"/>
<rect x="276.7" y="131.7" width="5.4" height="5.6" fill="#e2edf9"/>
<rect x="287.4" y="131.7" width="5.4" height="5.6" fill="#fef6f2"/>
<rect x="292.8" y="131.7" width="5.4" height="5.6" fill="#f5b99f"/>
<rect x="298.1" y="131.7" width="5.4" height="5.6" fill="#fce1d5"/>
<rect x="303.5" y="131.7" width="5.4" height="5.6" fill="#fdece4"/>
<rect x="308.8" y="131.7" width="5.4" height="5.6" fill="#fdece4"/>
<rect x="314.2" y="131.7" width="5.4" height="5.6" fill="#e4785a"/>
<rect x="319.5" y="131.7" width="5.4" height="5.6" fill="#d03220"/>
<rect x="217.9" y="137.1" width="5.4" height="5.6" fill="#fef6f2"/>
<rect x="223.2" y="137.1" width="5.4" height="5.6" fill="#fdece4"/>
<rect x="228.6" y="137.1" width="5.4" height="5.6" fill="#fef6f2"/>
<rect x="239.3" y="137.1" width="5.4" height="5.6" fill="#fef9f7"/>
<rect x="244.6" y="137.1" width="5.4" height="5.6" fill="#fad6c6"/>
<rect x="260.7" y="137.1" width="5.4" height="5.6" fill="#fef9f7"/>
<rect x="308.8" y="137.1" width="5.4" height="5.6" fill="#ed997b"/>
<rect x="324.9" y="137.1" width="5.4" height="5.6" fill="#d03220"/>
</g>
<rect x="211.2" y="27.8" width="6.2" height="5.6" fill="#2c6a34"/>
<rect x="217.9" y="144.6" width="5.4" height="5.6" fill="#2c6a34"/>
<rect x="211.2" y="38.7" width="6.2" height="5.6" fill="#f2a400"/>
<rect x="228.6" y="144.6" width="5.4" height="5.6" fill="#f2a400"/>
<rect x="211.2" y="49.7" width="6.2" height="5.6" fill="#0a0a0a"/>
<rect x="239.3" y="144.6" width="5.4" height="5.6" fill="#0a0a0a"/>
<rect x="211.2" y="55.1" width="6.2" height="5.6" fill="#a4d6a0"/>
<rect x="244.6" y="144.6" width="5.4" height="5.6" fill="#a4d6a0"/>
<rect x="211.2" y="60.6" width="6.2" height="5.6" fill="#9ccccc"/>
<rect x="250" y="144.6" width="5.4" height="5.6" fill="#9ccccc"/>
<rect x="211.2" y="66.1" width="6.2" height="5.6" fill="#f2d6dc"/>
<rect x="255.3" y="144.6" width="5.4" height="5.6" fill="#f2d6dc"/>
<rect x="211.2" y="71.5" width="6.2" height="5.6" fill="#7a141c"/>
<rect x="260.7" y="144.6" width="5.4" height="5.6" fill="#7a141c"/>
<rect x="211.2" y="82.5" width="6.2" height="5.6" fill="#6a2c9c"/>
<rect x="271.4" y="144.6" width="5.4" height="5.6" fill="#6a2c9c"/>
<rect x="211.2" y="87.9" width="6.2" height="5.6" fill="#4448a8"/>
<rect x="276.7" y="144.6" width="5.4" height="5.6" fill="#4448a8"/>
<rect x="211.2" y="93.4" width="6.2" height="5.6" fill="#7a4a26"/>
<rect x="282.1" y="144.6" width="5.4" height="5.6" fill="#7a4a26"/>
<rect x="211.2" y="98.9" width="6.2" height="5.6" fill="#222a78"/>
<rect x="287.4" y="144.6" width="5.4" height="5.6" fill="#222a78"/>
<rect x="211.2" y="109.8" width="6.2" height="5.6" fill="#cfe2f4"/>
<rect x="298.1" y="144.6" width="5.4" height="5.6" fill="#cfe2f4"/>
<rect x="211.2" y="115.3" width="6.2" height="5.6" fill="#fbfbfb"/>
<rect x="303.5" y="144.6" width="5.4" height="5.6" fill="#fbfbfb"/>
<rect x="211.2" y="120.7" width="6.2" height="5.6" fill="#cdbb88"/>
<rect x="308.8" y="144.6" width="5.4" height="5.6" fill="#cdbb88"/>
<rect x="211.2" y="126.2" width="6.2" height="5.6" fill="#c8c43c"/>
<rect x="314.2" y="144.6" width="5.4" height="5.6" fill="#c8c43c"/>
<rect x="211.2" y="131.7" width="6.2" height="5.6" fill="#f0ea28"/>
<rect x="319.5" y="144.6" width="5.4" height="5.6" fill="#f0ea28"/>
<rect x="211.2" y="137.1" width="6.2" height="5.6" fill="#cfcadc"/>
<rect x="324.9" y="144.6" width="5.4" height="5.6" fill="#cfcadc"/>
<rect x="217.9" y="27.8" width="112.3" height="114.8" fill="none" stroke="#1a1a1a" stroke-width="1.3"/>
<rect x="244.6" y="38.7" width="21.4" height="16.4" fill="none" stroke="#34349c" stroke-width="2.1"/>
<rect x="228.6" y="38.7" width="16" height="16.4" fill="none" stroke="#0c0c0c" stroke-width="2.0"/>
<rect x="255.3" y="66.1" width="16" height="16.4" fill="none" stroke="#7a4a22" stroke-width="1.8"/>
<text x="213.9" y="37.9" font-size="5.4" text-anchor="end" fill="#0a0a0a">Suppressed</text>
<text transform="translate(227.7 152.3) rotate(-90)" font-size="5.0" text-anchor="end" fill="#0a0a0a">Suppressed</text>
<text x="213.9" y="48.8" font-size="5.4" text-anchor="end" fill="#0a0a0a">Breakthrough Acute</text>
<text transform="translate(238.4 152.3) rotate(-90)" font-size="5.0" text-anchor="end" fill="#0a0a0a">Breakthrough Acute</text>
<text x="213.9" y="81.6" font-size="5.4" text-anchor="end" fill="#0a0a0a">Hyperacute</text>
<text transform="translate(270.5 152.3) rotate(-90)" font-size="5.0" text-anchor="end" fill="#0a0a0a">Hyperacute</text>
<text x="213.9" y="109" font-size="5.4" text-anchor="end" fill="#0a0a0a">Healthy Controls</text>
<text transform="translate(297.2 152.3) rotate(-90)" font-size="5.0" text-anchor="end" fill="#0a0a0a">Healthy Controls</text>
<text x="213.9" y="119.9" font-size="5.4" text-anchor="end" fill="#0a0a0a">Auto</text>
<text transform="translate(307.9 152.3) rotate(-90)" font-size="5.0" text-anchor="end" fill="#0a0a0a">Auto</text>
<defs><linearGradient id="gB" x1="0" y1="0" x2="0" y2="1"><stop offset="0" stop-color="#6a2a22"/><stop offset="0.25" stop-color="#8a6a62"/><stop offset="0.5" stop-color="#9a9a9c"/><stop offset="0.75" stop-color="#6a7690"/><stop offset="1" stop-color="#2a3660"/></linearGradient></defs>
<rect x="333.1" y="42.3" width="2.6" height="62.7" fill="url(#gB)"/>
<path d="M335.8 42.3V105M333.1 42.3H337.6M333.1 105H337.6" stroke="#222" stroke-width="0.7" fill="none"/>
<path d="M335.8 42.5H337.6" stroke="#222" stroke-width="0.7"/>
<text x="340.3" y="44" font-size="4.1" fill="#222">1</text>
<path d="M335.8 55H337.6" stroke="#222" stroke-width="0.7"/>
<text x="340.3" y="56.5" font-size="4.1" fill="#222">0.8</text>
<path d="M335.8 67.4H337.6" stroke="#222" stroke-width="0.7"/>
<text x="340.3" y="68.9" font-size="4.1" fill="#222">0.6</text>
<path d="M335.8 79.9H337.6" stroke="#222" stroke-width="0.7"/>
<text x="340.3" y="81.4" font-size="4.1" fill="#222">0.4</text>
<path d="M335.8 92.3H337.6" stroke="#222" stroke-width="0.7"/>
<text x="340.3" y="93.8" font-size="4.1" fill="#222">0.2</text>
<path d="M335.8 104.8H337.6" stroke="#222" stroke-width="0.7"/>
<text x="340.3" y="106.3" font-size="4.1" fill="#222">0</text>
<text transform="translate(352.8 73.5) rotate(-90)" font-size="4.7" text-anchor="middle" fill="#222">Correlation</text>
</g>
<g id="pc">
<text x="356.9" y="17.1" font-size="11.6" font-weight="bold" fill="#000">C</text>
<defs><linearGradient id="gC" x1="0" y1="0" x2="1" y2="0"><stop offset="0" stop-color="#1e2878"/><stop offset="0.07" stop-color="#c8cee8"/><stop offset="0.11" stop-color="#fcfcfe"/><stop offset="0.2" stop-color="#fceef0"/><stop offset="0.3" stop-color="#e896a0"/><stop offset="0.38" stop-color="#c8323c"/><stop offset="0.5" stop-color="#8c161e"/><stop offset="0.65" stop-color="#640e14"/><stop offset="1" stop-color="#4e0a10"/></linearGradient></defs>
<rect x="372.6" y="23.8" width="43.2" height="2.8" fill="url(#gC)" stroke="#1a1a1a" stroke-width="0.8"/>
<path d="M372.8 21V23.8" stroke="#1a1a1a" stroke-width="0.8"/>
<text x="372.8" y="18.8" font-size="4.5" text-anchor="middle" fill="#222">0.5</text>
<path d="M377.2 21V23.8" stroke="#1a1a1a" stroke-width="0.8"/>
<text x="377.2" y="18.8" font-size="4.5" text-anchor="middle" fill="#222">1</text>
<path d="M384.6 21V23.8" stroke="#1a1a1a" stroke-width="0.8"/>
<text x="384.6" y="18.8" font-size="4.5" text-anchor="middle" fill="#222">2</text>
<path d="M392.4 21V23.8" stroke="#1a1a1a" stroke-width="0.8"/>
<text x="392.4" y="18.8" font-size="4.5" text-anchor="middle" fill="#222">3</text>
<path d="M400 21V23.8" stroke="#1a1a1a" stroke-width="0.8"/>
<text x="400" y="18.8" font-size="4.5" text-anchor="middle" fill="#222">4</text>
<path d="M407.8 21V23.8" stroke="#1a1a1a" stroke-width="0.8"/>
<text x="407.8" y="18.8" font-size="4.5" text-anchor="middle" fill="#222">5</text>
<path d="M415.5 21V23.8" stroke="#1a1a1a" stroke-width="0.8"/>
<text x="415.5" y="18.8" font-size="4.5" text-anchor="middle" fill="#222">6</text>
<text x="394.3" y="31.2" font-size="4.4" text-anchor="middle" fill="#222">Fold Change</text>
<text x="394.3" y="35.8" font-size="4.300000000000001" text-anchor="middle" fill="#222">(Breakthrough Acute vs Auto)</text>
<g fill="none" stroke-linecap="round">
<path d="M408.7 62.8L437.5 100.5" stroke="#64aaac" stroke-width="0.65" opacity="0.34"/>
<path d="M408.7 62.8L483.1 78" stroke="#64aaac" stroke-width="0.87" opacity="0.32"/>
<path d="M408.7 62.8L487.5 106.5" stroke="#64aaac" stroke-width="0.68" opacity="0.35"/>
<path d="M402 69.8L483.1 78" stroke="#64aaac" stroke-width="0.53" opacity="0.33"/>
<path d="M402 69.8L486.5 87.2" stroke="#64aaac" stroke-width="0.73" opacity="0.38"/>
<path d="M402 69.8L485 115.9" stroke="#64aaac" stroke-width="0.49" opacity="0.29"/>
<path d="M402 69.8L437.5 100.5" stroke="#64aaac" stroke-width="0.49" opacity="0.39"/>
<path d="M396.9 78L486.5 87.2" stroke="#64aaac" stroke-width="0.76" opacity="0.25"/>
<path d="M396.9 78L474.8 132.3" stroke="#64aaac" stroke-width="0.89" opacity="0.41"/>
<path d="M396.9 78L480.8 124.6" stroke="#64aaac" stroke-width="0.74" opacity="0.35"/>
<path d="M393.5 87.2L437.5 100.5" stroke="#64aaac" stroke-width="0.52" opacity="0.24"/>
<path d="M393.5 87.2L488 96.8" stroke="#64aaac" stroke-width="0.69" opacity="0.25"/>
<path d="M393.5 87.2L467.4 138.6" stroke="#64aaac" stroke-width="0.54" opacity="0.28"/>
<path d="M392 96.8L437.5 100.5" stroke="#64aaac" stroke-width="0.46" opacity="0.32"/>
<path d="M392 96.8L487.5 106.5" stroke="#64aaac" stroke-width="0.65" opacity="0.39"/>
<path d="M392 96.8L478 69.8" stroke="#64aaac" stroke-width="0.68" opacity="0.36"/>
<path d="M392.5 106.5L437.5 100.5" stroke="#64aaac" stroke-width="0.67" opacity="0.36"/>
<path d="M392.5 106.5L483.1 78" stroke="#64aaac" stroke-width="0.66" opacity="0.29"/>
<path d="M395 115.9L437.5 100.5" stroke="#64aaac" stroke-width="0.9" opacity="0.42"/>
<path d="M395 115.9L486.5 87.2" stroke="#64aaac" stroke-width="0.83" opacity="0.37"/>
<path d="M395 115.9L485 115.9" stroke="#64aaac" stroke-width="0.59" opacity="0.28"/>
<path d="M395 115.9L471.3 62.8" stroke="#64aaac" stroke-width="0.58" opacity="0.25"/>
<path d="M399.2 124.6L437.5 100.5" stroke="#64aaac" stroke-width="0.79" opacity="0.31"/>
<path d="M399.2 124.6L487.5 106.5" stroke="#64aaac" stroke-width="0.83" opacity="0.31"/>
<path d="M405.2 132.3L488 96.8" stroke="#64aaac" stroke-width="0.88" opacity="0.39"/>
<path d="M405.2 132.3L463.3 57.2" stroke="#64aaac" stroke-width="0.45" opacity="0.28"/>
<path d="M412.6 138.6L437.5 100.5" stroke="#64aaac" stroke-width="0.86" opacity="0.32"/>
<path d="M412.6 138.6L444.9 51.4" stroke="#64aaac" stroke-width="0.89" opacity="0.31"/>
<path d="M421.1 143.3L425.6 53.4" stroke="#64aaac" stroke-width="0.48" opacity="0.35"/>
<path d="M421.1 143.3L437.5 100.5" stroke="#64aaac" stroke-width="0.8" opacity="0.29"/>
<path d="M421.1 143.3L435.1 51.4" stroke="#64aaac" stroke-width="0.49" opacity="0.3"/>
<path d="M430.3 146.3L435.1 51.4" stroke="#64aaac" stroke-width="0.88" opacity="0.38"/>
<path d="M430.3 146.3L444.9 51.4" stroke="#64aaac" stroke-width="0.5" opacity="0.28"/>
<path d="M430.3 146.3L437.5 100.5" stroke="#64aaac" stroke-width="0.5" opacity="0.25"/>
<path d="M416.7 57.2L437.5 100.5" stroke="#64aaac" stroke-width="0.81" opacity="0.27"/>
<path d="M416.7 57.2L483.1 78" stroke="#64aaac" stroke-width="0.7" opacity="0.32"/>
<path d="M416.7 57.2L485 115.9" stroke="#64aaac" stroke-width="0.54" opacity="0.37"/>
<path d="M416.7 57.2L474.8 132.3" stroke="#64aaac" stroke-width="0.51" opacity="0.36"/>
<path d="M408.7 62.8L480.8 124.6" stroke="#64aaac" stroke-width="0.5" opacity="0.32"/>
<path d="M402 69.8L467.4 138.6" stroke="#64aaac" stroke-width="0.55" opacity="0.29"/>
<path d="M396.9 78L437.5 100.5" stroke="#64aaac" stroke-width="0.89" opacity="0.38"/>
<path d="M416.7 57.2L471.3 62.8" stroke="#64aaac" stroke-width="0.59" opacity="0.4"/>
<path d="M425.6 53.4L478 69.8" stroke="#64aaac" stroke-width="0.54" opacity="0.31"/>
<path d="M408.7 62.8L444.9 51.4" stroke="#64aaac" stroke-width="0.83" opacity="0.36"/>
<path d="M402 69.8L463.3 57.2" stroke="#64aaac" stroke-width="0.5" opacity="0.42"/>
<path d="M416.7 57.2L454.4 53.4" stroke="#64aaac" stroke-width="0.55" opacity="0.29"/>
<path d="M425.6 53.4L440 147.2" stroke="#469a9c" stroke-width="1" opacity="0.75"/>
<path d="M425.6 53.4L449.7 146.3" stroke="#469a9c" stroke-width="1.1" opacity="0.75"/>
<path d="M425.6 53.4L437.5 100.5" stroke="#469a9c" stroke-width="0.9" opacity="0.75"/>
<path d="M425.6 53.4L458.9 143.3" stroke="#469a9c" stroke-width="0.8" opacity="0.75"/>
<path d="M435.1 51.4L440 147.2" stroke="#469a9c" stroke-width="1.2" opacity="0.75"/>
<path d="M435.1 51.4L449.7 146.3" stroke="#469a9c" stroke-width="1.3" opacity="0.75"/>
<path d="M435.1 51.4L458.9 143.3" stroke="#469a9c" stroke-width="1.1" opacity="0.75"/>
<path d="M435.1 51.4L467.4 138.6" stroke="#469a9c" stroke-width="0.9" opacity="0.75"/>
<path d="M435.1 51.4L437.5 100.5" stroke="#469a9c" stroke-width="1" opacity="0.75"/>
<path d="M416.7 57.2L425.6 53.4" stroke="#469a9c" stroke-width="1.2" opacity="0.75"/>
<path d="M425.6 53.4L435.1 51.4" stroke="#469a9c" stroke-width="1.2" opacity="0.75"/>
<path d="M435.1 51.4L444.9 51.4" stroke="#469a9c" stroke-width="1.4" opacity="0.75"/>
<path d="M416.7 57.2L440 147.2" stroke="#469a9c" stroke-width="0.7" opacity="0.75"/>
<path d="M416.7 57.2L449.7 146.3" stroke="#469a9c" stroke-width="0.7" opacity="0.75"/>
<path d="M425.6 53.4L467.4 138.6" stroke="#469a9c" stroke-width="0.7" opacity="0.75"/>
<path d="M425.6 53.4L474.8 132.3" stroke="#469a9c" stroke-width="0.7" opacity="0.75"/>
<path d="M435.1 51.4L480.8 124.6" stroke="#469a9c" stroke-width="0.8" opacity="0.75"/>
<path d="M444.9 51.4L454.4 53.4" stroke="#469a9c" stroke-width="1.03" opacity="0.79"/>
<path d="M444.9 51.4L478 69.8" stroke="#469a9c" stroke-width="0.92" opacity="0.88"/>
<path d="M444.9 51.4L488 96.8" stroke="#469a9c" stroke-width="1.23" opacity="0.87"/>
<path d="M444.9 51.4L487.5 106.5" stroke="#469a9c" stroke-width="0.84" opacity="0.75"/>
<path d="M444.9 51.4L485 115.9" stroke="#469a9c" stroke-width="1.66" opacity="0.77"/>
<path d="M444.9 51.4L474.8 132.3" stroke="#469a9c" stroke-width="1.82" opacity="0.76"/>
<path d="M444.9 51.4L467.4 138.6" stroke="#469a9c" stroke-width="1.75" opacity="0.88"/>
<path d="M454.4 53.4L463.3 57.2" stroke="#469a9c" stroke-width="0.91" opacity="0.91"/>
<path d="M454.4 53.4L478 69.8" stroke="#469a9c" stroke-width="1.38" opacity="0.79"/>
<path d="M454.4 53.4L486.5 87.2" stroke="#469a9c" stroke-width="0.69" opacity="0.77"/>
<path d="M454.4 53.4L488 96.8" stroke="#469a9c" stroke-width="1.71" opacity="0.88"/>
<path d="M454.4 53.4L485 115.9" stroke="#469a9c" stroke-width="0.87" opacity="0.7"/>
<path d="M454.4 53.4L440 147.2" stroke="#469a9c" stroke-width="0.77" opacity="0.81"/>
<path d="M463.3 57.2L471.3 62.8" stroke="#469a9c" stroke-width="1.87" opacity="0.9"/>
<path d="M463.3 57.2L478 69.8" stroke="#469a9c" stroke-width="1.36" opacity="0.74"/>
<path d="M463.3 57.2L488 96.8" stroke="#469a9c" stroke-width="1.51" opacity="0.99"/>
<path d="M463.3 57.2L485 115.9" stroke="#469a9c" stroke-width="1.23" opacity="0.92"/>
<path d="M463.3 57.2L474.8 132.3" stroke="#469a9c" stroke-width="0.7" opacity="0.86"/>
<path d="M463.3 57.2L467.4 138.6" stroke="#469a9c" stroke-width="1.77" opacity="0.92"/>
<path d="M463.3 57.2L458.9 143.3" stroke="#469a9c" stroke-width="1.63" opacity="0.97"/>
<path d="M463.3 57.2L440 147.2" stroke="#469a9c" stroke-width="1.77" opacity="0.96"/>
<path d="M471.3 62.8L483.1 78" stroke="#469a9c" stroke-width="1.72" opacity="0.87"/>
<path d="M471.3 62.8L486.5 87.2" stroke="#469a9c" stroke-width="1.1" opacity="0.87"/>
<path d="M471.3 62.8L488 96.8" stroke="#469a9c" stroke-width="0.7" opacity="0.89"/>
<path d="M471.3 62.8L487.5 106.5" stroke="#469a9c" stroke-width="1.74" opacity="0.92"/>
<path d="M471.3 62.8L480.8 124.6" stroke="#469a9c" stroke-width="1.36" opacity="0.83"/>
<path d="M471.3 62.8L474.8 132.3" stroke="#469a9c" stroke-width="0.71" opacity="0.93"/>
<path d="M471.3 62.8L458.9 143.3" stroke="#469a9c" stroke-width="1.23" opacity="0.77"/>
<path d="M471.3 62.8L449.7 146.3" stroke="#469a9c" stroke-width="1.25" opacity="0.88"/>
<path d="M471.3 62.8L440 147.2" stroke="#469a9c" stroke-width="0.93" opacity="0.7"/>
<path d="M478 69.8L483.1 78" stroke="#469a9c" stroke-width="1.48" opacity="0.76"/>
<path d="M478 69.8L488 96.8" stroke="#469a9c" stroke-width="1.46" opacity="0.83"/>
<path d="M478 69.8L487.5 106.5" stroke="#469a9c" stroke-width="1.03" opacity="0.9"/>
<path d="M478 69.8L480.8 124.6" stroke="#469a9c" stroke-width="1.65" opacity="0.97"/>
<path d="M478 69.8L474.8 132.3" stroke="#469a9c" stroke-width="1.1" opacity="0.87"/>
<path d="M478 69.8L467.4 138.6" stroke="#469a9c" stroke-width="0.78" opacity="0.85"/>
<path d="M478 69.8L458.9 143.3" stroke="#469a9c" stroke-width="1.7" opacity="0.91"/>
<path d="M478 69.8L449.7 146.3" stroke="#469a9c" stroke-width="0.96" opacity="0.75"/>
<path d="M478 69.8L440 147.2" stroke="#469a9c" stroke-width="0.96" opacity="0.76"/>
<path d="M483.1 78L486.5 87.2" stroke="#469a9c" stroke-width="1.41" opacity="0.85"/>
<path d="M483.1 78L488 96.8" stroke="#469a9c" stroke-width="1.69" opacity="0.99"/>
<path d="M483.1 78L487.5 106.5" stroke="#469a9c" stroke-width="0.7" opacity="0.71"/>
<path d="M483.1 78L485 115.9" stroke="#469a9c" stroke-width="0.65" opacity="0.91"/>
<path d="M483.1 78L480.8 124.6" stroke="#469a9c" stroke-width="1" opacity="0.94"/>
<path d="M483.1 78L458.9 143.3" stroke="#469a9c" stroke-width="0.63" opacity="0.95"/>
<path d="M483.1 78L449.7 146.3" stroke="#469a9c" stroke-width="0.78" opacity="0.71"/>
<path d="M483.1 78L440 147.2" stroke="#469a9c" stroke-width="1.18" opacity="0.89"/>
<path d="M486.5 87.2L488 96.8" stroke="#469a9c" stroke-width="1.65" opacity="0.99"/>
<path d="M486.5 87.2L487.5 106.5" stroke="#469a9c" stroke-width="0.86" opacity="0.84"/>
<path d="M486.5 87.2L474.8 132.3" stroke="#469a9c" stroke-width="1.53" opacity="0.75"/>
<path d="M486.5 87.2L467.4 138.6" stroke="#469a9c" stroke-width="1.05" opacity="0.91"/>
<path d="M486.5 87.2L458.9 143.3" stroke="#469a9c" stroke-width="1.4" opacity="0.93"/>
<path d="M486.5 87.2L449.7 146.3" stroke="#469a9c" stroke-width="1.63" opacity="0.97"/>
<path d="M488 96.8L487.5 106.5" stroke="#469a9c" stroke-width="1.54" opacity="0.74"/>
<path d="M488 96.8L485 115.9" stroke="#469a9c" stroke-width="1.41" opacity="0.97"/>
<path d="M488 96.8L480.8 124.6" stroke="#469a9c" stroke-width="1.34" opacity="0.96"/>
<path d="M488 96.8L474.8 132.3" stroke="#469a9c" stroke-width="1.83" opacity="0.84"/>
<path d="M488 96.8L467.4 138.6" stroke="#469a9c" stroke-width="0.87" opacity="0.92"/>
<path d="M488 96.8L458.9 143.3" stroke="#469a9c" stroke-width="1.43" opacity="0.92"/>
<path d="M488 96.8L440 147.2" stroke="#469a9c" stroke-width="1.87" opacity="0.99"/>
<path d="M487.5 106.5L485 115.9" stroke="#469a9c" stroke-width="1.63" opacity="0.8"/>
<path d="M487.5 106.5L480.8 124.6" stroke="#469a9c" stroke-width="1.71" opacity="0.8"/>
<path d="M487.5 106.5L467.4 138.6" stroke="#469a9c" stroke-width="1.32" opacity="0.93"/>
<path d="M487.5 106.5L458.9 143.3" stroke="#469a9c" stroke-width="0.64" opacity="0.94"/>
<path d="M487.5 106.5L440 147.2" stroke="#469a9c" stroke-width="0.82" opacity="0.8"/>
<path d="M485 115.9L480.8 124.6" stroke="#469a9c" stroke-width="0.78" opacity="0.74"/>
<path d="M485 115.9L474.8 132.3" stroke="#469a9c" stroke-width="1.54" opacity="0.95"/>
<path d="M485 115.9L467.4 138.6" stroke="#469a9c" stroke-width="1.83" opacity="0.85"/>
<path d="M485 115.9L458.9 143.3" stroke="#469a9c" stroke-width="0.71" opacity="0.77"/>
<path d="M485 115.9L449.7 146.3" stroke="#469a9c" stroke-width="0.98" opacity="0.92"/>
<path d="M485 115.9L440 147.2" stroke="#469a9c" stroke-width="1.28" opacity="0.95"/>
<path d="M480.8 124.6L474.8 132.3" stroke="#469a9c" stroke-width="1.01" opacity="0.81"/>
<path d="M480.8 124.6L467.4 138.6" stroke="#469a9c" stroke-width="1.77" opacity="0.76"/>
<path d="M480.8 124.6L458.9 143.3" stroke="#469a9c" stroke-width="1.86" opacity="0.86"/>
<path d="M480.8 124.6L449.7 146.3" stroke="#469a9c" stroke-width="0.86" opacity="0.86"/>
<path d="M480.8 124.6L440 147.2" stroke="#469a9c" stroke-width="1.39" opacity="0.71"/>
<path d="M474.8 132.3L467.4 138.6" stroke="#469a9c" stroke-width="1.27" opacity="0.82"/>
<path d="M474.8 132.3L458.9 143.3" stroke="#469a9c" stroke-width="1.33" opacity="0.85"/>
<path d="M474.8 132.3L449.7 146.3" stroke="#469a9c" stroke-width="0.69" opacity="0.86"/>
<path d="M474.8 132.3L440 147.2" stroke="#469a9c" stroke-width="1.84" opacity="0.98"/>
<path d="M467.4 138.6L458.9 143.3" stroke="#469a9c" stroke-width="1.22" opacity="0.74"/>
<path d="M467.4 138.6L449.7 146.3" stroke="#469a9c" stroke-width="1.66" opacity="0.97"/>
<path d="M467.4 138.6L440 147.2" stroke="#469a9c" stroke-width="1.01" opacity="0.76"/>
<path d="M458.9 143.3L449.7 146.3" stroke="#469a9c" stroke-width="1.8" opacity="0.74"/>
<path d="M458.9 143.3L440 147.2" stroke="#469a9c" stroke-width="0.63" opacity="0.76"/>
<path d="M449.7 146.3L440 147.2" stroke="#469a9c" stroke-width="1.49" opacity="0.8"/>
<path d="M437.5 100.5L444.9 51.4" stroke="#469a9c" stroke-width="1.83" opacity="0.95"/>
<path d="M437.5 100.5L454.4 53.4" stroke="#469a9c" stroke-width="2.14" opacity="0.95"/>
<path d="M437.5 100.5L463.3 57.2" stroke="#469a9c" stroke-width="1.53" opacity="0.95"/>
<path d="M437.5 100.5L471.3 62.8" stroke="#469a9c" stroke-width="2.28" opacity="0.95"/>
<path d="M437.5 100.5L478 69.8" stroke="#469a9c" stroke-width="1.55" opacity="0.95"/>
<path d="M437.5 100.5L483.1 78" stroke="#469a9c" stroke-width="2.01" opacity="0.95"/>
<path d="M437.5 100.5L486.5 87.2" stroke="#469a9c" stroke-width="1.7" opacity="0.95"/>
<path d="M437.5 100.5L488 96.8" stroke="#469a9c" stroke-width="1.64" opacity="0.95"/>
<path d="M437.5 100.5L487.5 106.5" stroke="#469a9c" stroke-width="2.04" opacity="0.95"/>
<path d="M437.5 100.5L485 115.9" stroke="#469a9c" stroke-width="1.92" opacity="0.95"/>
<path d="M437.5 100.5L480.8 124.6" stroke="#469a9c" stroke-width="1.85" opacity="0.95"/>
<path d="M437.5 100.5L474.8 132.3" stroke="#469a9c" stroke-width="1.9" opacity="0.95"/>
<path d="M437.5 100.5L467.4 138.6" stroke="#469a9c" stroke-width="2.04" opacity="0.95"/>
<path d="M437.5 100.5L458.9 143.3" stroke="#469a9c" stroke-width="1.59" opacity="0.95"/>
<path d="M437.5 100.5L449.7 146.3" stroke="#469a9c" stroke-width="1.65" opacity="0.95"/>
<path d="M437.5 100.5L440 147.2" stroke="#469a9c" stroke-width="2.16" opacity="0.95"/>
</g>
<rect x="437.9" y="147.4" width="4.1" height="4.1" fill="#4a0c12" stroke="#fff" stroke-width="0.5"/>
<rect x="427.8" y="146.4" width="4.1" height="4.1" fill="#b01822" stroke="#fff" stroke-width="0.5"/>
<rect x="418.1" y="143.4" width="4.1" height="4.1" fill="#e08c98" stroke="#fff" stroke-width="0.5"/>
<rect x="409.2" y="138.4" width="4.1" height="4.1" fill="#a81420" stroke="#fff" stroke-width="0.5"/>
<rect x="401.5" y="131.8" width="4.1" height="4.1" fill="#c04450" stroke="#fff" stroke-width="0.5"/>
<rect x="395.3" y="123.8" width="4.1" height="4.1" fill="#a81420" stroke="#fff" stroke-width="0.5"/>
<rect x="390.8" y="114.6" width="4.1" height="4.1" fill="#3a4a98" stroke="#fff" stroke-width="0.5"/>
<rect x="388.2" y="104.8" width="4.1" height="4.1" fill="#a81420" stroke="#fff" stroke-width="0.5"/>
<rect x="387.7" y="94.6" width="4.1" height="4.1" fill="#b01822" stroke="#fff" stroke-width="0.5"/>
<rect x="389.3" y="84.5" width="4.1" height="4.1" fill="#dca0a8" stroke="#fff" stroke-width="0.5"/>
<rect x="392.8" y="75" width="4.1" height="4.1" fill="#b01822" stroke="#fff" stroke-width="0.5"/>
<rect x="398.2" y="66.4" width="4.1" height="4.1" fill="#b01822" stroke="#fff" stroke-width="0.5"/>
<rect x="405.2" y="59" width="4.1" height="4.1" fill="#a81420" stroke="#fff" stroke-width="0.5"/>
<rect x="413.5" y="53.2" width="4.1" height="4.1" fill="#6a1018" stroke="#fff" stroke-width="0.5"/>
<rect x="422.9" y="49.2" width="4.1" height="4.1" fill="#a81420" stroke="#fff" stroke-width="0.5"/>
<rect x="432.9" y="47.1" width="4.1" height="4.1" fill="#d06874" stroke="#fff" stroke-width="0.5"/>
<rect x="443" y="47.1" width="4.1" height="4.1" fill="#b82028" stroke="#fff" stroke-width="0.5"/>
<rect x="453" y="49.2" width="4.1" height="4.1" fill="#e8a8b0" stroke="#fff" stroke-width="0.5"/>
<rect x="462.4" y="53.2" width="4.1" height="4.1" fill="#a81420" stroke="#fff" stroke-width="0.5"/>
<rect x="470.7" y="59" width="4.1" height="4.1" fill="#a81420" stroke="#fff" stroke-width="0.5"/>
<rect x="477.7" y="66.4" width="4.1" height="4.1" fill="#a81420" stroke="#fff" stroke-width="0.5"/>
<rect x="483.1" y="75" width="4.1" height="4.1" fill="#b01822" stroke="#fff" stroke-width="0.5"/>
<rect x="486.6" y="84.5" width="4.1" height="4.1" fill="#6a0c14" stroke="#fff" stroke-width="0.5"/>
<rect x="488.2" y="94.6" width="4.1" height="4.1" fill="#5a0a12" stroke="#fff" stroke-width="0.5"/>
<rect x="487.7" y="104.8" width="4.1" height="4.1" fill="#6a0c14" stroke="#fff" stroke-width="0.5"/>
<rect x="485.1" y="114.6" width="4.1" height="4.1" fill="#a01018" stroke="#fff" stroke-width="0.5"/>
<rect x="480.6" y="123.8" width="4.1" height="4.1" fill="#a01018" stroke="#fff" stroke-width="0.5"/>
<rect x="474.4" y="131.8" width="4.1" height="4.1" fill="#a01018" stroke="#fff" stroke-width="0.5"/>
<rect x="466.7" y="138.4" width="4.1" height="4.1" fill="#8a1018" stroke="#fff" stroke-width="0.5"/>
<rect x="457.8" y="143.4" width="4.1" height="4.1" fill="#a81420" stroke="#fff" stroke-width="0.5"/>
<rect x="448.1" y="146.4" width="4.1" height="4.1" fill="#b82028" stroke="#fff" stroke-width="0.5"/>
<rect x="435.4" y="98.5" width="4.1" height="4.1" fill="#a01018" stroke="#fff" stroke-width="0.5"/>
<text x="436.5" y="44.8" font-size="5.3" text-anchor="end" fill="#111">HS6ST2</text>
<text x="443.2" y="43.2" font-size="5.3" fill="#111">ZNRF1</text>
<text x="420.9" y="51.2" font-size="5.3" text-anchor="end" fill="#111">DNER</text>
<text x="411.6" y="56" font-size="5.3" text-anchor="end" fill="#111">OLFM4</text>
<text x="402.8" y="62.3" font-size="5.3" text-anchor="end" fill="#111">KIF3C</text>
<text x="396.5" y="69.6" font-size="5.3" text-anchor="end" fill="#111">IL22</text>
<text x="391.2" y="78.2" font-size="5.3" text-anchor="end" fill="#111">ZNF462</text>
<text x="386.8" y="87.7" font-size="5.3" text-anchor="end" fill="#111">EHD4</text>
<text x="386" y="97.8" font-size="5.3" text-anchor="end" fill="#111">KCNA2</text>
<text x="386" y="108.3" font-size="5.3" text-anchor="end" fill="#111">WDFY3</text>
<text x="388.5" y="118.1" font-size="5.3" text-anchor="end" fill="#111">MLLT11</text>
<text x="393.2" y="127.3" font-size="5.3" text-anchor="end" fill="#111">STAMBPL1</text>
<text x="399.5" y="135.3" font-size="5.3" text-anchor="end" fill="#111">C10orf128</text>
<text x="407.5" y="141.4" font-size="5.3" text-anchor="end" fill="#111">MFHAS1</text>
<text x="415.6" y="147.6" font-size="5.3" text-anchor="end" fill="#111">IL17A</text>
<text x="425.6" y="152.8" font-size="5.3" text-anchor="end" fill="#111">HLF</text>
<text x="442.5" y="157.5" font-size="5.3" text-anchor="end" fill="#111">MATN2</text>
<text x="449.4" y="157" font-size="5.3" fill="#111">IL26</text>
<text x="461.5" y="149.8" font-size="5.3" fill="#111">LAPTM4B</text>
<text x="473" y="142.2" font-size="5.3" fill="#111">RYR2</text>
<text x="480.4" y="135.9" font-size="5.3" fill="#111">LTB4R</text>
<text x="488.2" y="127.9" font-size="5.3" fill="#111">PAK3</text>
<text x="491.4" y="118.4" font-size="5.3" fill="#111">IL23R</text>
<text x="493.6" y="108.3" font-size="5.3" fill="#111">IL1R1</text>
<text x="494.5" y="97.8" font-size="5.3" fill="#111">CHN1</text>
<text x="494" y="87.7" font-size="5.3" fill="#111">CCR6</text>
<text x="489.2" y="78.2" font-size="5.3" fill="#111">STON1</text>
<text x="483.6" y="69.6" font-size="5.3" fill="#111">LOC702646</text>
<text x="477.2" y="62.4" font-size="5.3" fill="#111">EGLN3</text>
<text x="468.8" y="57" font-size="5.3" fill="#111">ADAM12</text>
<text x="459.8" y="51.3" font-size="5.3" fill="#111">LOC702662</text>
<text x="435.2" y="96.4" font-size="5.4" text-anchor="end" font-weight="bold" fill="#111" style="stroke:#fff;stroke-width:1.2px;paint-order:stroke">RORC</text>
</g>
<g id="pd">
<text x="7.3" y="216" font-size="11.6" font-weight="bold" fill="#000">D</text>
<defs><linearGradient id="gD" x1="0" y1="0" x2="1" y2="0"><stop offset="0" stop-color="#1e2878"/><stop offset="0.07" stop-color="#c8cee8"/><stop offset="0.11" stop-color="#fcfcfe"/><stop offset="0.2" stop-color="#fceef0"/><stop offset="0.3" stop-color="#e896a0"/><stop offset="0.38" stop-color="#c8323c"/><stop offset="0.5" stop-color="#8c161e"/><stop offset="0.65" stop-color="#640e14"/><stop offset="1" stop-color="#4e0a10"/></linearGradient></defs>
<rect x="353.2" y="223.8" width="67.2" height="3.9" fill="url(#gD)" stroke="#1a1a1a" stroke-width="0.8"/>
<path d="M353.4 221V223.8" stroke="#1a1a1a" stroke-width="0.8"/>
<text x="353.4" y="220.4" font-size="4.4" text-anchor="middle" fill="#222">0.5</text>
<path d="M360.4 221V223.8" stroke="#1a1a1a" stroke-width="0.8"/>
<text x="360.4" y="220.4" font-size="4.4" text-anchor="middle" fill="#222">1</text>
<path d="M372.3 221V223.8" stroke="#1a1a1a" stroke-width="0.8"/>
<text x="372.3" y="220.4" font-size="4.4" text-anchor="middle" fill="#222">2</text>
<path d="M384.4 221V223.8" stroke="#1a1a1a" stroke-width="0.8"/>
<text x="384.4" y="220.4" font-size="4.4" text-anchor="middle" fill="#222">3</text>
<path d="M396.3 221V223.8" stroke="#1a1a1a" stroke-width="0.8"/>
<text x="396.3" y="220.4" font-size="4.4" text-anchor="middle" fill="#222">4</text>
<path d="M408.3 221V223.8" stroke="#1a1a1a" stroke-width="0.8"/>
<text x="408.3" y="220.4" font-size="4.4" text-anchor="middle" fill="#222">5</text>
<path d="M420 221V223.8" stroke="#1a1a1a" stroke-width="0.8"/>
<text x="420" y="220.4" font-size="4.4" text-anchor="middle" fill="#222">6</text>
<text x="387" y="232.9" font-size="4.5" text-anchor="middle" fill="#222">Fold Change</text>
<text x="387" y="238" font-size="4.4" text-anchor="middle" fill="#222">(Breakthrough Acute vs Auto)</text>
<path d="M73 238.8L362.1 294.2M73 238.8L365.9 299.1M73 238.8L369.5 304.3M73 238.8L372.7 309.6M73 238.8L375.6 315.2M73 238.8L378 321M73 238.8L380.2 326.9M73 238.8L381.9 332.9M73 238.8L383.2 339M73 238.8L384.1 345.2M73 238.8L384.7 351.5M73 238.8L384.8 357.7M73 238.8L384.5 364M73 238.8L383.8 370.2M73 238.8L382.7 376.4M73 238.8L381.2 382.5M73 238.8L379.4 388.5M73 238.8L377.1 394.3M73 238.8L374.5 400M73 238.8L371.5 405.5M73 238.8L368.1 410.8M73 238.8L364.4 415.9M73 238.8L360.4 420.7M73 238.8L356.1 425.3M73 238.8L351.5 429.5M73 238.8L346.7 433.5M73 238.8L341.6 437.1M73 238.8L336.2 440.4M73 238.8L330.7 443.4M73 238.8L325 446M73 238.8L319.1 448.2M73 238.8L313.1 450M73 238.8L307 451.4M73 238.8L300.8 452.4M73 238.8L294.6 453.1M73 238.8L288.3 453.3M73 238.8L282.1 453.1M73 238.8L275.8 452.5M73 238.8L269.6 451.5M73 238.8L263.5 450.2M73 238.8L257.5 448.4M73 238.8L251.6 446.2M73 238.8L245.9 443.7M73 238.8L240.3 440.8M73 238.8L235 437.5M73 238.8L229.9 433.9M73 238.8L225 430M73 238.8L220.3 425.7M73 238.8L216 421.2M73 238.8L212 416.4M73 238.8L208.2 411.4M73 238.8L204.9 406.1M73 238.8L201.8 400.6M73 238.8L199.2 394.9M73 238.8L196.9 389.1M73 238.8L194.9 383.1M73 238.8L193.4 377M73 238.8L192.3 370.9M73 238.8L191.5 364.7M73 238.8L191.2 358.4M73 238.8L191.3 352.1M73 238.8L191.8 345.9M73 238.8L192.7 339.7M73 238.8L194 333.5M73 238.8L195.6 327.5M73 238.8L197.7 321.6M73 238.8L200.2 315.8M73 238.8L203 310.2M73 238.8L206.2 304.8M73 238.8L209.7 299.6M73 238.8L213.5 294.7M73 238.8L217.7 290M73 238.8L222.1 285.6M73 238.8L226.9 281.4M73 238.8L231.9 277.6M73 238.8L237.1 274.2M73 238.8L242.5 271.1M73 238.8L248.1 268.3M73 238.8L253.9 265.9" stroke="#58acb0" stroke-width="0.5" fill="none" opacity="0.42"/>
<path d="M103.8 239.5L362.1 294.2M103.8 239.5L365.9 299.1M103.8 239.5L369.5 304.3M103.8 239.5L372.7 309.6M103.8 239.5L375.6 315.2M103.8 239.5L378 321M103.8 239.5L380.2 326.9M103.8 239.5L381.9 332.9M103.8 239.5L383.2 339M103.8 239.5L384.1 345.2M103.8 239.5L384.7 351.5M103.8 239.5L384.8 357.7M103.8 239.5L384.5 364M103.8 239.5L383.8 370.2M103.8 239.5L382.7 376.4M103.8 239.5L381.2 382.5M103.8 239.5L379.4 388.5M103.8 239.5L377.1 394.3M103.8 239.5L374.5 400M103.8 239.5L371.5 405.5M103.8 239.5L368.1 410.8M103.8 239.5L364.4 415.9M103.8 239.5L360.4 420.7M103.8 239.5L356.1 425.3M103.8 239.5L351.5 429.5M103.8 239.5L346.7 433.5M103.8 239.5L341.6 437.1M103.8 239.5L336.2 440.4M103.8 239.5L330.7 443.4M103.8 239.5L325 446M103.8 239.5L319.1 448.2M103.8 239.5L313.1 450M103.8 239.5L307 451.4M103.8 239.5L300.8 452.4M103.8 239.5L294.6 453.1M103.8 239.5L288.3 453.3M103.8 239.5L282.1 453.1M103.8 239.5L275.8 452.5M103.8 239.5L269.6 451.5M103.8 239.5L263.5 450.2M103.8 239.5L257.5 448.4M103.8 239.5L251.6 446.2M103.8 239.5L245.9 443.7M103.8 239.5L240.3 440.8M103.8 239.5L235 437.5M103.8 239.5L229.9 433.9M103.8 239.5L225 430M103.8 239.5L220.3 425.7M103.8 239.5L216 421.2M103.8 239.5L212 416.4M103.8 239.5L208.2 411.4M103.8 239.5L204.9 406.1M103.8 239.5L201.8 400.6M103.8 239.5L199.2 394.9M103.8 239.5L196.9 389.1M103.8 239.5L194.9 383.1M103.8 239.5L193.4 377M103.8 239.5L192.3 370.9M103.8 239.5L191.5 364.7M103.8 239.5L191.2 358.4M103.8 239.5L191.3 352.1M103.8 239.5L191.8 345.9M103.8 239.5L192.7 339.7M103.8 239.5L194 333.5M103.8 239.5L195.6 327.5M103.8 239.5L197.7 321.6M103.8 239.5L200.2 315.8M103.8 239.5L203 310.2M103.8 239.5L206.2 304.8M103.8 239.5L209.7 299.6M103.8 239.5L213.5 294.7M103.8 239.5L217.7 290M103.8 239.5L222.1 285.6M103.8 239.5L226.9 281.4M103.8 239.5L231.9 277.6M103.8 239.5L237.1 274.2M103.8 239.5L242.5 271.1M103.8 239.5L248.1 268.3M103.8 239.5L253.9 265.9" stroke="#58acb0" stroke-width="0.5" fill="none" opacity="0.42"/>
<path d="M88 269.5L362.1 294.2M88 269.5L365.9 299.1M88 269.5L369.5 304.3M88 269.5L372.7 309.6M88 269.5L375.6 315.2M88 269.5L378 321M88 269.5L380.2 326.9M88 269.5L381.9 332.9M88 269.5L383.2 339M88 269.5L384.1 345.2M88 269.5L384.7 351.5M88 269.5L384.8 357.7M88 269.5L384.5 364M88 269.5L383.8 370.2M88 269.5L382.7 376.4M88 269.5L381.2 382.5M88 269.5L379.4 388.5M88 269.5L377.1 394.3M88 269.5L374.5 400M88 269.5L371.5 405.5M88 269.5L368.1 410.8M88 269.5L364.4 415.9M88 269.5L360.4 420.7M88 269.5L356.1 425.3M88 269.5L351.5 429.5M88 269.5L346.7 433.5M88 269.5L341.6 437.1M88 269.5L336.2 440.4M88 269.5L330.7 443.4M88 269.5L325 446M88 269.5L319.1 448.2M88 269.5L313.1 450M88 269.5L307 451.4M88 269.5L300.8 452.4M88 269.5L294.6 453.1M88 269.5L288.3 453.3M88 269.5L282.1 453.1M88 269.5L275.8 452.5M88 269.5L269.6 451.5M88 269.5L263.5 450.2M88 269.5L257.5 448.4M88 269.5L251.6 446.2M88 269.5L245.9 443.7M88 269.5L240.3 440.8M88 269.5L235 437.5M88 269.5L229.9 433.9M88 269.5L225 430M88 269.5L220.3 425.7M88 269.5L216 421.2M88 269.5L212 416.4M88 269.5L208.2 411.4M88 269.5L204.9 406.1M88 269.5L201.8 400.6M88 269.5L199.2 394.9M88 269.5L196.9 389.1M88 269.5L194.9 383.1M88 269.5L193.4 377M88 269.5L192.3 370.9M88 269.5L191.5 364.7M88 269.5L191.2 358.4M88 269.5L191.3 352.1M88 269.5L191.8 345.9M88 269.5L192.7 339.7M88 269.5L194 333.5M88 269.5L195.6 327.5M88 269.5L197.7 321.6M88 269.5L200.2 315.8M88 269.5L203 310.2M88 269.5L206.2 304.8M88 269.5L209.7 299.6M88 269.5L213.5 294.7M88 269.5L217.7 290M88 269.5L222.1 285.6M88 269.5L226.9 281.4M88 269.5L231.9 277.6M88 269.5L237.1 274.2M88 269.5L242.5 271.1M88 269.5L248.1 268.3M88 269.5L253.9 265.9" stroke="#58acb0" stroke-width="0.5" fill="none" opacity="0.42"/>
<path d="M127.5 267L362.1 294.2M127.5 267L365.9 299.1M127.5 267L369.5 304.3M127.5 267L372.7 309.6M127.5 267L375.6 315.2M127.5 267L378 321M127.5 267L380.2 326.9M127.5 267L381.9 332.9M127.5 267L383.2 339M127.5 267L384.1 345.2M127.5 267L384.7 351.5M127.5 267L384.8 357.7M127.5 267L384.5 364M127.5 267L383.8 370.2M127.5 267L382.7 376.4M127.5 267L381.2 382.5M127.5 267L379.4 388.5M127.5 267L377.1 394.3M127.5 267L374.5 400M127.5 267L371.5 405.5M127.5 267L368.1 410.8M127.5 267L364.4 415.9M127.5 267L360.4 420.7M127.5 267L356.1 425.3M127.5 267L351.5 429.5M127.5 267L346.7 433.5M127.5 267L341.6 437.1M127.5 267L336.2 440.4M127.5 267L330.7 443.4M127.5 267L325 446M127.5 267L319.1 448.2M127.5 267L313.1 450M127.5 267L307 451.4M127.5 267L300.8 452.4M127.5 267L294.6 453.1M127.5 267L288.3 453.3M127.5 267L282.1 453.1M127.5 267L275.8 452.5M127.5 267L257.5 448.4M127.5 267L251.6 446.2M127.5 267L245.9 443.7M127.5 267L240.3 440.8M127.5 267L235 437.5M127.5 267L225 430M127.5 267L220.3 425.7M127.5 267L216 421.2M127.5 267L212 416.4M127.5 267L208.2 411.4M127.5 267L204.9 406.1M127.5 267L201.8 400.6M127.5 267L199.2 394.9M127.5 267L196.9 389.1M127.5 267L194.9 383.1M127.5 267L193.4 377M127.5 267L192.3 370.9M127.5 267L191.5 364.7M127.5 267L191.2 358.4M127.5 267L191.3 352.1M127.5 267L191.8 345.9M127.5 267L192.7 339.7M127.5 267L194 333.5M127.5 267L195.6 327.5M127.5 267L197.7 321.6M127.5 267L200.2 315.8M127.5 267L203 310.2M127.5 267L206.2 304.8M127.5 267L209.7 299.6M127.5 267L213.5 294.7M127.5 267L217.7 290M127.5 267L222.1 285.6M127.5 267L226.9 281.4M127.5 267L231.9 277.6M127.5 267L237.1 274.2M127.5 267L242.5 271.1M127.5 267L248.1 268.3M127.5 267L253.9 265.9" stroke="#58acb0" stroke-width="0.5" fill="none" opacity="0.42"/>
<path d="M127 299.3L362.1 294.2M127 299.3L365.9 299.1M127 299.3L369.5 304.3M127 299.3L372.7 309.6M127 299.3L375.6 315.2M127 299.3L378 321M127 299.3L380.2 326.9M127 299.3L383.2 339M127 299.3L384.1 345.2M127 299.3L384.7 351.5M127 299.3L384.5 364M127 299.3L383.8 370.2M127 299.3L382.7 376.4M127 299.3L381.2 382.5M127 299.3L379.4 388.5M127 299.3L377.1 394.3M127 299.3L374.5 400M127 299.3L371.5 405.5M127 299.3L368.1 410.8M127 299.3L364.4 415.9M127 299.3L360.4 420.7M127 299.3L356.1 425.3M127 299.3L351.5 429.5M127 299.3L346.7 433.5M127 299.3L341.6 437.1M127 299.3L336.2 440.4M127 299.3L330.7 443.4M127 299.3L325 446M127 299.3L319.1 448.2M127 299.3L313.1 450M127 299.3L307 451.4M127 299.3L300.8 452.4M127 299.3L294.6 453.1M127 299.3L288.3 453.3M127 299.3L282.1 453.1M127 299.3L275.8 452.5M127 299.3L269.6 451.5M127 299.3L263.5 450.2M127 299.3L257.5 448.4M127 299.3L251.6 446.2M127 299.3L245.9 443.7M127 299.3L240.3 440.8M127 299.3L235 437.5M127 299.3L229.9 433.9M127 299.3L225 430M127 299.3L220.3 425.7M127 299.3L216 421.2M127 299.3L212 416.4M127 299.3L208.2 411.4M127 299.3L204.9 406.1M127 299.3L201.8 400.6M127 299.3L199.2 394.9M127 299.3L196.9 389.1M127 299.3L194.9 383.1M127 299.3L193.4 377M127 299.3L192.3 370.9M127 299.3L191.5 364.7M127 299.3L191.2 358.4M127 299.3L191.3 352.1M127 299.3L191.8 345.9M127 299.3L192.7 339.7M127 299.3L194 333.5M127 299.3L195.6 327.5M127 299.3L197.7 321.6M127 299.3L200.2 315.8M127 299.3L203 310.2M127 299.3L206.2 304.8M127 299.3L209.7 299.6M127 299.3L213.5 294.7M127 299.3L217.7 290M127 299.3L222.1 285.6M127 299.3L226.9 281.4M127 299.3L231.9 277.6M127 299.3L237.1 274.2M127 299.3L242.5 271.1M127 299.3L248.1 268.3" stroke="#58acb0" stroke-width="0.5" fill="none" opacity="0.42"/>
<path d="M87.5 293.8L384.1 345.2M87.5 293.8L384.8 357.7M87.5 293.8L383.8 370.2M87.5 293.8L377.1 394.3M87.5 293.8L374.5 400M87.5 293.8L307 451.4M87.5 293.8L192.3 370.9M87.5 293.8L191.2 358.4" stroke="#58acb0" stroke-width="0.5" fill="none" opacity="0.35"/>
<path d="M113.8 325.8L375.6 315.2M113.8 325.8L383.2 339M113.8 325.8L384.7 351.5M113.8 325.8L381.2 382.5M113.8 325.8L341.6 437.1M113.8 325.8L325 446M113.8 325.8L313.1 450M113.8 325.8L208.2 411.4M113.8 325.8L199.2 394.9M113.8 325.8L196.9 389.1M113.8 325.8L194.9 383.1M113.8 325.8L191.5 364.7M113.8 325.8L200.2 315.8M113.8 325.8L209.7 299.6M113.8 325.8L222.1 285.6" stroke="#58acb0" stroke-width="0.5" fill="none" opacity="0.35"/>
<path d="M78 330.5L372.7 309.6M78 330.5L371.5 405.5M78 330.5L364.4 415.9M78 330.5L336.2 440.4M78 330.5L269.6 451.5M78 330.5L245.9 443.7M78 330.5L194.9 383.1M78 330.5L193.4 377M78 330.5L192.3 370.9M78 330.5L191.3 352.1M78 330.5L191.8 345.9M78 330.5L200.2 315.8M78 330.5L253.9 265.9" stroke="#58acb0" stroke-width="0.5" fill="none" opacity="0.35"/>
<path d="M52 310.8L379.4 388.5M52 310.8L288.3 453.3M52 310.8L263.5 450.2M52 310.8L208.2 411.4M52 310.8L199.2 394.9M52 310.8L191.5 364.7M52 310.8L206.2 304.8M52 310.8L242.5 271.1M52 310.8L248.1 268.3" stroke="#58acb0" stroke-width="0.5" fill="none" opacity="0.3"/>
<path d="M39.5 280L384.1 345.2M39.5 280L377.1 394.3M39.5 280L235 437.5M39.5 280L208.2 411.4M39.5 280L201.8 400.6M39.5 280L194.9 383.1" stroke="#58acb0" stroke-width="0.5" fill="none" opacity="0.3"/>
<path d="M49.5 253.8L384.8 357.7M49.5 253.8L257.5 448.4" stroke="#58acb0" stroke-width="0.5" fill="none" opacity="0.25"/>
<defs><radialGradient id="gDisc" cx="288" cy="356.5" r="96.3" gradientUnits="userSpaceOnUse"><stop offset="0" stop-color="#78bec4"/><stop offset="0.96" stop-color="#72bac0"/><stop offset="0.985" stop-color="#94ced2"/><stop offset="1" stop-color="#cfe9eb"/></radialGradient></defs>
<circle cx="288" cy="356.5" r="96.3" fill="url(#gDisc)"/>
<path d="M296.4 452.4A96.3 96.3 0 0 1 195 331.6A174.2 174.2 0 0 0 296.4 452.4Z" fill="#ffffff" opacity="0.86"/>
<path d="M193.8 336.5L295.8 452.5M197 325L310.5 450.1M199.6 318.2L301.6 451.8M196.6 326L303.7 451.5M197 324.9L304 451.5M197.9 322.4L304 451.5M192.7 342.9L303.6 451.5M195.9 328.3L289 452.8M198 322.3L288 452.8M194.8 332.3L285.1 452.8M193.1 340L290.8 452.8M195.3 330.4L303.8 451.5M192.2 346.8L302.5 451.7M194.4 334L304.2 451.4M192.7 342.4L283 452.7M193.8 336.7L297.9 452.3M192 349.1L291.7 452.7M194.1 335.1L291.4 452.7M192.4 344.9L283.7 452.7M193.1 340.1L292.6 452.7M192.7 342.7L271.9 451.4M191.7 358.8L272.4 451.5M192.4 344.9L283.9 452.7M191.7 355.7L279.8 452.5M192 348.9L266.9 450.5M192.5 344.5L262 449.2M192.3 366.8L283.3 452.7M191.7 358.5L273.1 451.6M191.8 361.5L256.9 447.6M192.4 368L263.5 449.6M194 377.6L253.3 446.3M193.5 375.1L255.3 447.1M193 372.2L256.5 447.5M191.9 362.2L250.6 445.2M192.4 367.7L257.6 447.9M196.6 386.9L254.2 446.7M193.7 375.8L244.2 442.2M201.2 398.1L231.8 434.7M205.4 406L224 428.4M198.3 391.4L231.7 434.7" stroke="#66b2b8" stroke-width="0.65" fill="none" opacity="0.6"/>
<path d="M210.1 299.9L382.2 376.3M192.3 345.9L351.2 429.2M210.1 299.9L374 399.8M210.1 299.9L371 405.3M212.4 416.1L376.6 394.1M213.9 295L374 399.8M203.4 310.4L383.3 370.2M198.2 321.8L360.1 420.4M193.2 339.8L324.8 445.5M192 364.6L374 399.8M202.3 400.4L360.1 420.4M200.6 316L319 447.7M200.6 316L346.4 433.1M213.9 295L294.6 452.6M208.7 411.1L371 405.3M198.2 321.8L384.3 357.7M199.6 394.7L351.2 429.2M208.7 411.1L346.4 433.1M212.4 416.1L376.6 394.1M195.4 383L382.2 376.3M197.3 388.9L346.4 433.1M194.4 333.7L341.3 436.7M263.6 449.7L369.1 304.5M263.6 449.7L309.3 262.6M263.6 449.7L377.6 321.2M257.7 447.9L227.2 281.8M257.7 447.9L213.9 295M257.7 447.9L365.5 299.4M246.1 443.2L278.3 260.7M246.1 443.2L213.9 295M246.1 443.2L361.7 294.5M235.3 437.1L375.1 315.4M235.3 437.1L272.2 261.5M235.3 437.1L227.2 281.8M230.2 433.5L327.1 268.5M230.2 433.5L272.2 261.5M230.2 433.5L237.3 274.6M225.3 429.6L379.7 327M225.3 429.6L338.1 274.3M225.3 429.6L232.1 278.1M216.4 420.9L266 262.7M216.4 420.9L284.6 260.3M216.4 420.9L348.3 281.4M205.3 405.8L210.1 299.9M205.3 405.8L218 290.3M205.3 405.8L357.5 289.8" stroke="#74bcc1" stroke-width="0.5" fill="none" opacity="0.6"/>
<path d="M383.6 345.3L213.9 295M227.2 281.8L384 364M372.3 309.9L203.4 310.4M254.1 266.4L376.6 394.1M242.7 271.5L343.3 277.7M383.6 345.3L321.3 266.1M200.6 316L327.1 268.5M382.7 339.1L367.7 410.5M353 285.5L384.2 351.5M248.3 268.7L369.1 304.5M374 399.8L309.3 262.6M336 440L384.2 351.5M290.8 260.2L330.5 442.9M353 285.5L237.3 274.6M332.7 271.2L232.1 278.1M348.3 281.4L371 405.3M254.1 266.4L294.6 452.6M341.3 436.7L278.3 260.7M203.4 310.4L321.3 266.1M384 364L266 262.7M360.1 420.4L303.2 261.4M348.3 281.4L324.8 445.5M324.8 445.5L353 285.5M384.3 357.7L206.6 305.1M222.5 285.9L361.7 294.5M348.3 281.4L222.5 285.9M232.1 278.1L343.3 277.7M364 415.6L222.5 285.9M374 399.8L315.4 264.2M324.8 445.5L383.6 345.3M210.1 299.9L383.6 345.3M365.5 299.4L364 415.6" stroke="#b4e0e3" stroke-width="0.3" fill="none" opacity="0.22"/>
<path d="M283 331L301 320" stroke="#d8f0f2" stroke-width="1.1" stroke-dasharray="1 1.3" opacity="0.7" fill="none"/>
<ellipse cx="290" cy="345" rx="30" ry="34" fill="none" stroke="#a6d8dc" stroke-width="0.5" opacity="0.35" transform="rotate(20 290 345)"/>
<path d="M49.5 253.8L87.5 293.8M39.5 280L88 269.5M39.5 280L87.5 293.8M39.5 280L52 310.8M39.5 280L78 330.5M39.5 280L127 299.3M52 310.8L88 269.5M52 310.8L87.5 293.8M52 310.8L78 330.5M52 310.8L127 299.3M78 330.5L88 269.5M78 330.5L87.5 293.8M78 330.5L127 299.3M87.5 293.8L88 269.5M87.5 293.8L127 299.3M87.5 293.8L113.8 325.8M87.5 293.8L127.5 267M88 269.5L103.8 239.5M88 269.5L127.5 267M88 269.5L127 299.3M88 269.5L73 238.8M103.8 239.5L127.5 267M113.8 325.8L127 299.3M113.8 325.8L88 269.5M73 238.8L103.8 239.5M103.8 239.5L127 299.3M52 310.8L113.8 325.8M39.5 280L113.8 325.8" stroke="#9cc4c6" stroke-width="0.55" fill="none" opacity="0.8"/>
<rect x="30.6" y="216.8" width="109.9" height="131.3" fill="none" stroke="#0a0a0a" stroke-width="1.5"/>
<rect x="70.7" y="236.5" width="4.6" height="4.6" fill="#f0c8d0" stroke="#fff" stroke-width="0.3"/>
<text x="71.9" y="234.9" font-size="5.3" text-anchor="middle" fill="#111">TLR2</text>
<rect x="101.5" y="237.2" width="4.6" height="4.6" fill="#c03848" stroke="#fff" stroke-width="0.3"/>
<text x="103.8" y="234.9" font-size="5.3" text-anchor="middle" fill="#111">PTGS2</text>
<rect x="47.2" y="251.5" width="4.6" height="4.6" fill="#a4a4dc" stroke="#fff" stroke-width="0.3"/>
<text x="48.8" y="249.9" font-size="5.3" text-anchor="middle" fill="#111">CRISP3</text>
<rect x="85.7" y="267.2" width="4.6" height="4.6" fill="#b01020" stroke="#fff" stroke-width="0.3"/>
<text x="87.5" y="265.2" font-size="5.3" text-anchor="middle" fill="#111">IL1B</text>
<rect x="125.2" y="264.7" width="4.6" height="4.6" fill="#e4a8b4" stroke="#fff" stroke-width="0.3"/>
<text x="126.9" y="263.2" font-size="5.3" text-anchor="middle" fill="#111">G0S2</text>
<rect x="37.2" y="277.7" width="4.6" height="4.6" fill="#2c0808" stroke="#fff" stroke-width="0.3"/>
<text x="39.3" y="276.2" font-size="5.3" text-anchor="middle" fill="#111">IL8</text>
<rect x="85.2" y="291.5" width="4.6" height="4.6" fill="#c01828" stroke="#fff" stroke-width="0.3"/>
<text x="86.9" y="289.4" font-size="5.3" text-anchor="middle" fill="#111">CCL20</text>
<rect x="124.7" y="297" width="4.6" height="4.6" fill="#a80820" stroke="#fff" stroke-width="0.3"/>
<text x="126.9" y="294.9" font-size="5.3" text-anchor="middle" fill="#111">PTX3</text>
<rect x="49.7" y="308.5" width="4.6" height="4.6" fill="#d06a6e" stroke="#fff" stroke-width="0.3"/>
<text x="50.8" y="306.4" font-size="5.3" text-anchor="middle" fill="#111">CXCL2</text>
<rect x="111.5" y="323.5" width="4.6" height="4.6" fill="#a01020" stroke="#fff" stroke-width="0.3"/>
<text x="113.3" y="321.9" font-size="5.3" text-anchor="middle" fill="#111">IER3</text>
<rect x="75.7" y="328.2" width="4.6" height="4.6" fill="#d46474" stroke="#fff" stroke-width="0.3"/>
<text x="78.3" y="326.2" font-size="5.3" text-anchor="middle" fill="#111">CXCL1</text>
<rect x="275.8" y="256.4" width="4.6" height="4.6" fill="#a01020"/>
<rect x="282.2" y="256" width="4.6" height="4.6" fill="#e29aa6"/>
<rect x="288.6" y="255.9" width="4.6" height="4.6" fill="#fbf6f8"/>
<rect x="294.9" y="256.3" width="4.6" height="4.6" fill="#e29aa6"/>
<rect x="301.2" y="257.1" width="4.6" height="4.6" fill="#e29aa6"/>
<rect x="307.5" y="258.3" width="4.6" height="4.6" fill="#e29aa6"/>
<rect x="313.6" y="260" width="4.6" height="4.6" fill="#fbf6f8"/>
<rect x="319.7" y="262" width="4.6" height="4.6" fill="#cc5866"/>
<rect x="325.6" y="264.4" width="4.6" height="4.6" fill="#a01020"/>
<rect x="331.3" y="267.1" width="4.6" height="4.6" fill="#e29aa6"/>
<rect x="336.8" y="270.3" width="4.6" height="4.6" fill="#e29aa6"/>
<rect x="342.2" y="273.7" width="4.6" height="4.6" fill="#a01020"/>
<rect x="347.3" y="277.6" width="4.6" height="4.6" fill="#c02834"/>
<rect x="352.1" y="281.7" width="4.6" height="4.6" fill="#f8e6ea"/>
<rect x="356.6" y="286.2" width="4.6" height="4.6" fill="#4a52a4"/>
<rect x="360.9" y="290.9" width="4.6" height="4.6" fill="#c8a0c8"/>
<rect x="364.8" y="295.9" width="4.6" height="4.6" fill="#f0c8d0"/>
<rect x="368.5" y="301.1" width="4.6" height="4.6" fill="#a01020"/>
<rect x="371.7" y="306.6" width="4.6" height="4.6" fill="#f8e6ea"/>
<rect x="374.6" y="312.3" width="4.6" height="4.6" fill="#f8e6ea"/>
<rect x="377.1" y="318.1" width="4.6" height="4.6" fill="#f8e6ea"/>
<rect x="379.3" y="324.1" width="4.6" height="4.6" fill="#e29aa6"/>
<rect x="381" y="330.2" width="4.6" height="4.6" fill="#a01020"/>
<rect x="382.4" y="336.5" width="4.6" height="4.6" fill="#e29aa6"/>
<rect x="383.3" y="342.8" width="4.6" height="4.6" fill="#f0c8d0"/>
<rect x="383.9" y="349.1" width="4.6" height="4.6" fill="#e29aa6"/>
<rect x="384" y="355.5" width="4.6" height="4.6" fill="#fbf6f8"/>
<rect x="383.7" y="361.8" width="4.6" height="4.6" fill="#f8e6ea"/>
<rect x="383" y="368.1" width="4.6" height="4.6" fill="#cc5866"/>
<rect x="381.9" y="374.4" width="4.6" height="4.6" fill="#f8e6ea"/>
<rect x="380.4" y="380.6" width="4.6" height="4.6" fill="#e29aa6"/>
<rect x="378.5" y="386.7" width="4.6" height="4.6" fill="#a8a4d4"/>
<rect x="376.2" y="392.6" width="4.6" height="4.6" fill="#fbf6f8"/>
<rect x="373.5" y="398.4" width="4.6" height="4.6" fill="#cc5866"/>
<rect x="370.5" y="404" width="4.6" height="4.6" fill="#a01020"/>
<rect x="367.1" y="409.4" width="4.6" height="4.6" fill="#e29aa6"/>
<rect x="363.3" y="414.5" width="4.6" height="4.6" fill="#a01020"/>
<rect x="359.3" y="419.4" width="4.6" height="4.6" fill="#a01020"/>
<rect x="354.9" y="424" width="4.6" height="4.6" fill="#fbf6f8"/>
<rect x="350.2" y="428.4" width="4.6" height="4.6" fill="#f0c8d0"/>
<rect x="345.3" y="432.4" width="4.6" height="4.6" fill="#e29aa6"/>
<rect x="340.1" y="436.1" width="4.6" height="4.6" fill="#c02834"/>
<rect x="334.7" y="439.4" width="4.6" height="4.6" fill="#e29aa6"/>
<rect x="329.1" y="442.4" width="4.6" height="4.6" fill="#a01020"/>
<rect x="323.3" y="445" width="4.6" height="4.6" fill="#a01020"/>
<rect x="317.3" y="447.3" width="4.6" height="4.6" fill="#a01020"/>
<rect x="311.2" y="449.1" width="4.6" height="4.6" fill="#c02834"/>
<rect x="305" y="450.6" width="4.6" height="4.6" fill="#c02834"/>
<rect x="298.7" y="451.6" width="4.6" height="4.6" fill="#e29aa6"/>
<rect x="292.4" y="452.3" width="4.6" height="4.6" fill="#e29aa6"/>
<rect x="286" y="452.5" width="4.6" height="4.6" fill="#e29aa6"/>
<rect x="279.7" y="452.3" width="4.6" height="4.6" fill="#4a52a4"/>
<rect x="273.3" y="451.7" width="4.6" height="4.6" fill="#fbf6f8"/>
<rect x="267" y="450.7" width="4.6" height="4.6" fill="#d8d4ec"/>
<rect x="260.8" y="449.3" width="4.6" height="4.6" fill="#1c2470"/>
<rect x="254.7" y="447.5" width="4.6" height="4.6" fill="#1c2470"/>
<rect x="248.8" y="445.3" width="4.6" height="4.6" fill="#a8a4d4"/>
<rect x="242.9" y="442.7" width="4.6" height="4.6" fill="#c02834"/>
<rect x="237.3" y="439.8" width="4.6" height="4.6" fill="#dccdbc"/>
<rect x="231.9" y="436.4" width="4.6" height="4.6" fill="#1c2470"/>
<rect x="226.7" y="432.8" width="4.6" height="4.6" fill="#1c2470"/>
<rect x="221.7" y="428.8" width="4.6" height="4.6" fill="#1c2470"/>
<rect x="217" y="424.5" width="4.6" height="4.6" fill="#fbf6f8"/>
<rect x="212.6" y="419.9" width="4.6" height="4.6" fill="#1c2470"/>
<rect x="208.5" y="415" width="4.6" height="4.6" fill="#fbf6f8"/>
<rect x="204.7" y="409.9" width="4.6" height="4.6" fill="#fbf6f8"/>
<rect x="201.3" y="404.6" width="4.6" height="4.6" fill="#d8d4ec"/>
<rect x="198.2" y="399" width="4.6" height="4.6" fill="#f8e6ea"/>
<rect x="195.5" y="393.2" width="4.6" height="4.6" fill="#f8e6ea"/>
<rect x="193.1" y="387.3" width="4.6" height="4.6" fill="#a01020"/>
<rect x="191.2" y="381.2" width="4.6" height="4.6" fill="#9c9cd0"/>
<rect x="189.6" y="375.1" width="4.6" height="4.6" fill="#a01020"/>
<rect x="188.5" y="368.8" width="4.6" height="4.6" fill="#fbf6f8"/>
<rect x="187.7" y="362.5" width="4.6" height="4.6" fill="#fbf6f8"/>
<rect x="187.4" y="356.1" width="4.6" height="4.6" fill="#fbf6f8"/>
<rect x="187.5" y="349.8" width="4.6" height="4.6" fill="#d8d4ec"/>
<rect x="188" y="343.4" width="4.6" height="4.6" fill="#f0c8d0"/>
<rect x="188.9" y="337.1" width="4.6" height="4.6" fill="#a8a4d4"/>
<rect x="190.2" y="330.9" width="4.6" height="4.6" fill="#5a5aa8"/>
<rect x="191.9" y="324.7" width="4.6" height="4.6" fill="#f0c8d0"/>
<rect x="194" y="318.7" width="4.6" height="4.6" fill="#a01020"/>
<rect x="196.5" y="312.9" width="4.6" height="4.6" fill="#fbf6f8"/>
<rect x="199.4" y="307.2" width="4.6" height="4.6" fill="#e29aa6"/>
<rect x="202.6" y="301.7" width="4.6" height="4.6" fill="#a01020"/>
<rect x="206.2" y="296.4" width="4.6" height="4.6" fill="#e29aa6"/>
<rect x="210.1" y="291.4" width="4.6" height="4.6" fill="#c02834"/>
<rect x="214.3" y="286.6" width="4.6" height="4.6" fill="#c02834"/>
<rect x="218.8" y="282.2" width="4.6" height="4.6" fill="#e29aa6"/>
<rect x="223.6" y="278" width="4.6" height="4.6" fill="#f0c8d0"/>
<rect x="228.7" y="274.1" width="4.6" height="4.6" fill="#f0c8d0"/>
<rect x="234" y="270.6" width="4.6" height="4.6" fill="#f8e6ea"/>
<rect x="239.5" y="267.4" width="4.6" height="4.6" fill="#f0c8d0"/>
<rect x="245.2" y="264.6" width="4.6" height="4.6" fill="#f8e6ea"/>
<rect x="251.1" y="262.2" width="4.6" height="4.6" fill="#4a52a4"/>
<rect x="257.1" y="260.1" width="4.6" height="4.6" fill="#e29aa6"/>
<rect x="263.3" y="258.5" width="4.6" height="4.6" fill="#e29aa6"/>
<rect x="269.5" y="257.2" width="4.6" height="4.6" fill="#cc5866"/>
<text x="272" y="232.3" font-size="5.4" text-anchor="end" fill="#111">NLRP3</text>
<text x="270.6" y="226.8" font-size="5.4" text-anchor="middle" fill="#111">THBD</text>
<text x="290.4" y="226.8" font-size="5.4" text-anchor="middle" fill="#111">CSF1R</text>
<text x="304.5" y="226.8" font-size="5.4" fill="#111">PTAFR</text>
<text x="310" y="232.3" font-size="5.4" fill="#111">KLF4</text>
<text x="314.3" y="237.3" font-size="5.4" fill="#111">TFEC</text>
<text x="320" y="242.6" font-size="5.4" fill="#111">TLR4</text>
<text x="327.5" y="248.8" font-size="5.4" fill="#111">DUSP6</text>
<text x="333" y="254.3" font-size="5.4" fill="#111">SERPINB10</text>
<text x="338.8" y="259.3" font-size="5.4" fill="#111">MS4A6A</text>
<text x="344.5" y="264.8" font-size="5.4" fill="#111">DAPK1</text>
<text x="349.5" y="270.6" font-size="5.4" fill="#111">QPCT</text>
<text x="355" y="276.8" font-size="5.4" fill="#111">CD14</text>
<text x="360" y="281.3" font-size="5.4" fill="#111">TNFSF13</text>
<text x="361.9" y="290.4" font-size="5.4" fill="#111">FCGR2B</text>
<text x="366.2" y="295.1" font-size="5.4" fill="#111">KYNU</text>
<text x="370.1" y="300.1" font-size="5.4" fill="#111">IDO1</text>
<text x="373.8" y="305.3" font-size="5.4" fill="#111">RBM47</text>
<text x="377" y="310.8" font-size="5.4" fill="#111">C3AR1</text>
<text x="379.9" y="316.5" font-size="5.4" fill="#111">CCR1</text>
<text x="382.4" y="322.3" font-size="5.4" fill="#111">ALDH1A1</text>
<text x="384.6" y="328.3" font-size="5.4" fill="#111">CSF2RA</text>
<text x="386.3" y="334.4" font-size="5.4" fill="#111">KCTD12</text>
<text x="387.7" y="340.7" font-size="5.4" fill="#111">FCER1G</text>
<text x="388.6" y="347" font-size="5.4" fill="#111">TLR8</text>
<text x="389.2" y="353.3" font-size="5.4" fill="#111">LYZ</text>
<text x="389.3" y="359.7" font-size="5.4" fill="#111">MPEG1</text>
<text x="389" y="366" font-size="5.4" fill="#111">TNFRSF21</text>
<text x="388.3" y="372.3" font-size="5.4" fill="#111">SLC7A7</text>
<text x="387.2" y="378.6" font-size="5.4" fill="#111">LILRA2</text>
<text x="385.7" y="384.8" font-size="5.4" fill="#111">MAFB</text>
<text x="383.8" y="390.9" font-size="5.4" fill="#111">CYBB</text>
<text x="381.5" y="396.8" font-size="5.4" fill="#111">TGFBI</text>
<text x="378.8" y="402.6" font-size="5.4" fill="#111">PILRA</text>
<text x="375.8" y="408.2" font-size="5.4" fill="#111">CSTA</text>
<text x="372.4" y="413.6" font-size="5.4" fill="#111">LILRB2</text>
<text x="368.6" y="418.7" font-size="5.4" fill="#111">MNDA</text>
<text x="364.6" y="423.6" font-size="5.4" fill="#111">CPVL</text>
<text x="361.3" y="431.8" font-size="5.4" fill="#111">CLEC7A</text>
<text x="358" y="438.8" font-size="5.4" fill="#111">HCK</text>
<text x="350.8" y="444.8" font-size="5.4" fill="#111">IGSF6</text>
<text x="343.8" y="451.3" font-size="5.4" fill="#111">FCN1</text>
<text x="338" y="457.6" font-size="5.4" fill="#111">AIF1</text>
<text x="333.8" y="464.3" font-size="5.4" fill="#111">PLBD1</text>
<text x="327.5" y="471.3" font-size="5.4" fill="#111">VCAN</text>
<text x="321.3" y="478.1" font-size="5.4" fill="#111">LOC100423931</text>
<text x="315.5" y="484.3" font-size="5.4" fill="#111">CD163</text>
<text x="311.3" y="490.6" font-size="5.4" fill="#111">C1orf162</text>
<text x="304.5" y="498.1" font-size="5.4" fill="#111">SIGLEC11</text>
<text x="298.8" y="504.3" font-size="5.4" fill="#111">C5AR1</text>
<text x="288" y="510.6" font-size="5.4" text-anchor="middle" fill="#111">LILRB1</text>
<text x="277.5" y="505.6" font-size="5.4" text-anchor="end" fill="#111">LOC100294276</text>
<text x="268" y="498.8" font-size="5.4" text-anchor="end" fill="#111">LTF</text>
<text x="263" y="491.8" font-size="5.4" text-anchor="end" fill="#111">ANKRD33B</text>
<text x="258" y="485.1" font-size="5.4" text-anchor="end" fill="#111">LOC100294275</text>
<text x="252" y="478.6" font-size="5.4" text-anchor="end" fill="#111">LOC100133583</text>
<text x="246.3" y="471.8" font-size="5.4" text-anchor="end" fill="#111">CD74</text>
<text x="240.5" y="465.1" font-size="5.4" text-anchor="end" fill="#111">GNB4</text>
<text x="235" y="458.1" font-size="5.4" text-anchor="end" fill="#111">NACC2</text>
<text x="230" y="451.3" font-size="5.4" text-anchor="end" fill="#111">LOC723547</text>
<text x="223.8" y="444.3" font-size="5.4" text-anchor="end" fill="#111">HLA-DRA</text>
<text x="218.8" y="437.6" font-size="5.4" text-anchor="end" fill="#111">HLA-DRB1</text>
<text x="215.5" y="431.1" font-size="5.4" text-anchor="end" fill="#111">CDKN1C</text>
<text x="211.9" y="424.1" font-size="5.4" text-anchor="end" fill="#111">RTD1A</text>
<text x="207.8" y="419.2" font-size="5.4" text-anchor="end" fill="#111">CDKN1A</text>
<text x="204" y="414.1" font-size="5.4" text-anchor="end" fill="#111">HHEX</text>
<text x="200.6" y="408.8" font-size="5.4" text-anchor="end" fill="#111">DEFA1</text>
<text x="197.5" y="403.2" font-size="5.4" text-anchor="end" fill="#111">FLJ44896</text>
<text x="194.8" y="397.4" font-size="5.4" text-anchor="end" fill="#111">KMO</text>
<text x="192.4" y="391.5" font-size="5.4" text-anchor="end" fill="#111">CXCL3</text>
<text x="190.5" y="385.4" font-size="5.4" text-anchor="end" fill="#111">C6orf89</text>
<text x="188.9" y="379.3" font-size="5.4" text-anchor="end" fill="#111">TBC1D9</text>
<text x="187.8" y="373" font-size="5.4" text-anchor="end" fill="#111">CEBPA</text>
<text x="187" y="366.7" font-size="5.4" text-anchor="end" fill="#111">QKI</text>
<text x="186.7" y="360.3" font-size="5.4" text-anchor="end" fill="#111">HLA-DMA</text>
<text x="186.8" y="354" font-size="5.4" text-anchor="end" fill="#111">CTBP2</text>
<text x="187.3" y="347.6" font-size="5.4" text-anchor="end" fill="#111">NEURL1B</text>
<text x="188.2" y="341.3" font-size="5.4" text-anchor="end" fill="#111">CD93</text>
<text x="189.5" y="335.1" font-size="5.4" text-anchor="end" fill="#111">MS4A7</text>
<text x="191.2" y="328.9" font-size="5.4" text-anchor="end" fill="#111">CST3</text>
<text x="193.3" y="322.9" font-size="5.4" text-anchor="end" fill="#111">40237</text>
<text x="195.8" y="317.1" font-size="5.4" text-anchor="end" fill="#111">VMO1</text>
<text x="198.7" y="311.4" font-size="5.4" text-anchor="end" fill="#111">EPS8</text>
<text x="201.9" y="305.9" font-size="5.4" text-anchor="end" fill="#111">FCER1A</text>
<text x="205.5" y="300.6" font-size="5.4" text-anchor="end" fill="#111">PRCP</text>
<text x="209.4" y="295.6" font-size="5.4" text-anchor="end" fill="#111">FAM198B</text>
<text x="213.6" y="290.8" font-size="5.4" text-anchor="end" fill="#111">PLA2G7</text>
<text x="218.1" y="286.4" font-size="5.4" text-anchor="end" fill="#111">ARRDC4</text>
<text x="223.3" y="277.6" font-size="5.4" text-anchor="end" fill="#111">FN1</text>
<text x="229.5" y="273.1" font-size="5.4" text-anchor="end" fill="#111">JDP2</text>
<text x="232.5" y="268.6" font-size="5.4" text-anchor="end" fill="#111">LPCAT2</text>
<text x="238" y="263.1" font-size="5.4" text-anchor="end" fill="#111">CFD</text>
<text x="242.5" y="258.1" font-size="5.4" text-anchor="end" fill="#111">MARCKS</text>
<text x="248.8" y="253.6" font-size="5.4" text-anchor="end" fill="#111">HLA-DMB</text>
<text x="255.8" y="247.3" font-size="5.4" text-anchor="end" fill="#111">LMO2</text>
<text x="260" y="241.8" font-size="5.4" text-anchor="end" fill="#111">RNASE3</text>
<text x="266.3" y="236.8" font-size="5.4" text-anchor="end" fill="#111">EAF2</text>
<path d="M272.3 232.5L277.3 253.3M278 228.8L283.2 252.8M291.2 228.5L291.2 252.8M303.5 228.5L298 252.8M310.2 233.5L304 253.8M315.8 238.2L310 255M321.7 243.5L316.5 256.8M328 249.3L322.8 258.5M333.5 254.5L329 261M339 259.3L335.5 264M344.5 264.5L341 268M349.5 270L346.5 272.5M354.3 275.5L352 277.3M359 280.5L357 282M360 427.5L361 429.5M353.8 433.8L356.5 436.5M348.8 437.8L350 441.5M342.5 441.8L343.8 447.5M336.8 445.5L337.8 454M331.3 448.3L333.3 461M325 450.8L327 467.8M319.3 452.8L321.3 474.5M313 454.5L315.5 480.8M307 456L311.3 487M300.8 457L305.5 494M294.5 457.3L299.3 500.8M288.3 457.3L288.3 506.5M281.3 457.3L277.5 500.5M275.2 456.3L268.6 495M268.8 455.5L263.5 488.3M262.5 454L258.5 481.3M256.3 452.3L252.5 475M250.5 450.5L246.3 468M244.5 448L240.5 461.3M238.8 445L235 454.5M233.5 441.5L230.5 448.8M228.3 437.8L225 441.8M223 432.8L219.5 434.5M233 268L235 270M238.6 262.2L241 265.3M243.3 257L246.8 262M249.5 252.8L252.8 259.3M256.3 247L259.2 257.5M260.5 242L265 255.8M266.5 237L271 254.3" stroke="#111" stroke-width="1.05" fill="none"/>
</g>
<g id="pe">
<text x="48.7" y="536" font-size="11.6" font-weight="bold" fill="#000">E</text>
<path d="M111.8 534.5V585.9M109.6 585.9H186" stroke="#0a0a0a" stroke-width="1.1" fill="none"/>
<path d="M109.3 537.1H111.8" stroke="#0a0a0a" stroke-width="1.0"/>
<text x="106.6" y="539" font-size="5.3" text-anchor="end" fill="#111">40</text>
<path d="M109.3 549.2H111.8" stroke="#0a0a0a" stroke-width="1.0"/>
<text x="106.6" y="551.1" font-size="5.3" text-anchor="end" fill="#111">30</text>
<path d="M109.3 561.7H111.8" stroke="#0a0a0a" stroke-width="1.0"/>
<text x="106.6" y="563.6" font-size="5.3" text-anchor="end" fill="#111">20</text>
<path d="M109.3 574H111.8" stroke="#0a0a0a" stroke-width="1.0"/>
<text x="106.6" y="575.9" font-size="5.3" text-anchor="end" fill="#111">10</text>
<path d="M109.3 585.9H111.8" stroke="#0a0a0a" stroke-width="1.0"/>
<text x="106.6" y="587.8" font-size="5.3" text-anchor="end" fill="#111">0</text>
<path d="M130.8 585.9V589M167.8 585.9V589" stroke="#0a0a0a" stroke-width="0.9"/>
<text transform="translate(96 561.5) rotate(-90)" font-size="4.7" text-anchor="middle" fill="#111">% of CD4+ T Cells</text>
<text x="48.6" y="564" font-size="6.1" fill="#111">CD4 IL17a+</text>
<path d="M125.1 579.2L126.5 581.9L123.6 581.9ZM127.7 580.2L129.2 582.9L126.2 582.9ZM130.8 579.5L132.2 582.2L129.4 582.2ZM133.7 580.2L135.1 582.9L132.2 582.9ZM136.3 579.2L137.8 581.9L134.9 581.9ZM139 580.5L140.4 583.2L137.6 583.2ZM130.8 582.9L132.2 585.6L129.4 585.6Z" fill="#8a1424"/>
<path d="M118.7 581.7H142.9" stroke="#2a080c" stroke-width="1.1"/>
<circle cx="167.8" cy="551" r="1.2" fill="#f0a848"/>
<circle cx="165.7" cy="561.9" r="1.2" fill="#f0a848"/>
<circle cx="169.6" cy="564.4" r="1.2" fill="#f0a848"/>
<circle cx="165.4" cy="571.7" r="1.2" fill="#f0a848"/>
<circle cx="170" cy="575.2" r="1.2" fill="#f0a848"/>
<circle cx="166.6" cy="576.9" r="1.2" fill="#f0a848"/>
<circle cx="169.6" cy="579.5" r="1.2" fill="#f0a848"/>
<circle cx="167.1" cy="582.1" r="1.2" fill="#f0a848"/>
<circle cx="169.2" cy="583.8" r="1.2" fill="#f0a848"/>
<circle cx="167.5" cy="585.2" r="1.2" fill="#f0a848"/>
<circle cx="167.8" cy="540.2" r="0.6" fill="#444"/>
<path d="M155.7 571.7H179.9M161.4 567.9H174.4M161.4 576.4H174.4M167.8 567.9V576.4" stroke="#0a0a0a" stroke-width="1.0" fill="none"/>
<path d="M111.8 594V645.4M109.6 645.4H186" stroke="#0a0a0a" stroke-width="1.1" fill="none"/>
<path d="M109.3 596.3H111.8" stroke="#0a0a0a" stroke-width="1.0"/>
<text x="106.6" y="598.2" font-size="5.3" text-anchor="end" fill="#111">30</text>
<path d="M109.3 612.7H111.8" stroke="#0a0a0a" stroke-width="1.0"/>
<text x="106.6" y="614.6" font-size="5.3" text-anchor="end" fill="#111">20</text>
<path d="M109.3 629.2H111.8" stroke="#0a0a0a" stroke-width="1.0"/>
<text x="106.6" y="631.1" font-size="5.3" text-anchor="end" fill="#111">10</text>
<path d="M109.3 645.4H111.8" stroke="#0a0a0a" stroke-width="1.0"/>
<text x="106.6" y="647.3" font-size="5.3" text-anchor="end" fill="#111">0</text>
<path d="M130.8 645.4V648.5M167.8 645.4V648.5" stroke="#0a0a0a" stroke-width="0.9"/>
<text transform="translate(96 620.5) rotate(-90)" font-size="4.7" text-anchor="middle" fill="#111">% of CD8+ T Cells</text>
<text x="48.6" y="622.6" font-size="6.1" fill="#111">CD8 IL17a+</text>
<path d="M119.4 640.1L120.9 642.8L118 642.8ZM121.6 641L123 643.7L120.1 643.7ZM124.2 641.5L125.7 644.2L122.8 644.2ZM126.8 641.9L128.2 644.6L125.3 644.6ZM129.4 642.2L130.8 644.9L128 644.9ZM132 642.4L133.4 645.1L130.6 645.1ZM134.6 641.9L136 644.6L133.2 644.6ZM137.2 641.5L138.6 644.2L135.8 644.2ZM139.4 641L140.8 643.7L138 643.7ZM141.5 640.1L142.9 642.8L140.1 642.8Z" fill="#8a1424"/>
<path d="M118.7 643.7H142.9" stroke="#2a080c" stroke-width="1.1"/>
<circle cx="167.8" cy="601" r="1.2" fill="#f0a848"/>
<circle cx="165.7" cy="623.1" r="1.2" fill="#f0a848"/>
<circle cx="169.7" cy="623.1" r="1.2" fill="#f0a848"/>
<circle cx="164.9" cy="637.3" r="1.2" fill="#f0a848"/>
<circle cx="167.5" cy="638.2" r="1.2" fill="#f0a848"/>
<circle cx="170.6" cy="636.8" r="1.2" fill="#f0a848"/>
<circle cx="165.7" cy="642.5" r="1.2" fill="#f0a848"/>
<circle cx="169.6" cy="642.5" r="1.2" fill="#f0a848"/>
<circle cx="166.6" cy="633.3" r="1.2" fill="#f0a848"/>
<circle cx="169.2" cy="634.4" r="1.2" fill="#f0a848"/>
<circle cx="167.8" cy="596.3" r="0.6" fill="#444"/>
<path d="M155.7 630.4H179.9M161.4 625.2H174.4M161.4 635.1H174.4M167.8 625.2V635.1" stroke="#0a0a0a" stroke-width="1.0" fill="none"/>
<text x="130.8" y="656.5" font-size="5.4" text-anchor="middle" fill="#111">Hyperacute</text>
<text x="167.8" y="656.5" font-size="5.4" text-anchor="middle" fill="#111">Breakthrough</text>
<text x="167.8" y="663.9" font-size="5.4" text-anchor="middle" fill="#111">Acute</text>
</g>
<g id="pf">
<text x="224.9" y="536.6" font-size="11.6" font-weight="bold" fill="#000">F</text>
<g shape-rendering="crispEdges">
<rect x="293.4" y="569.7" width="10.3" height="8.7" fill="#e01a20"/>
<rect x="303.5" y="569.7" width="10.3" height="8.7" fill="#e6421a"/>
<rect x="313.6" y="569.7" width="10.3" height="8.7" fill="#f3a41c"/>
<rect x="323.6" y="569.7" width="10.3" height="8.7" fill="#f6b41c"/>
<rect x="333.7" y="569.7" width="10.3" height="8.7" fill="#f8c41e"/>
<rect x="343.8" y="569.7" width="10.3" height="8.7" fill="#f9d220"/>
<rect x="353.9" y="569.7" width="10.3" height="8.7" fill="#f9dc22"/>
<rect x="364" y="569.7" width="10.3" height="8.7" fill="#f9e224"/>
<rect x="374" y="569.7" width="10.3" height="8.7" fill="#f9e624"/>
<rect x="384.1" y="569.7" width="10.3" height="8.7" fill="#f9e824"/>
<rect x="394.2" y="569.7" width="10.3" height="8.7" fill="#f9e824"/>
<rect x="404.3" y="569.7" width="10.3" height="8.7" fill="#f9e824"/>
<rect x="414.4" y="569.7" width="10.3" height="8.7" fill="#f9e824"/>
<rect x="424.4" y="569.7" width="10.3" height="8.7" fill="#f9e824"/>
<rect x="434.5" y="569.7" width="10.3" height="8.7" fill="#f9e824"/>
</g>
<rect x="293.4" y="569.7" width="151.2" height="8.7" fill="none" stroke="#0a0a0a" stroke-width="1"/>
<path d="M298.4 566.6V569.4M298.4 578.6V581.9M308.5 566.6V569.4M308.5 578.6V581.9M318.6 566.6V569.4M318.6 578.6V581.9M328.7 566.6V569.4M328.7 578.6V581.9M338.8 566.6V569.4M338.8 578.6V581.9M348.8 566.6V569.4M348.8 578.6V581.9M358.9 566.6V569.4M358.9 578.6V581.9M369 566.6V569.4M369 578.6V581.9M379.1 566.6V569.4M379.1 578.6V581.9M389.2 566.6V569.4M389.2 578.6V581.9M399.2 566.6V569.4M399.2 578.6V581.9M409.3 566.6V569.4M409.3 578.6V581.9M419.4 566.6V569.4M419.4 578.6V581.9M429.5 566.6V569.4M429.5 578.6V581.9M439.6 566.6V569.4M439.6 578.6V581.9M445 570.5H447.2M445 572.5H447.2M445 574.5H447.2M445 576.5H447.2M445 578H447.2" stroke="#0a0a0a" stroke-width="0.8" fill="none"/>
<text transform="translate(299.8 586.4) rotate(-45)" font-size="5.4" text-anchor="end" fill="#111">REACT_6900:Signaling in immune system</text>
<text transform="translate(309.9 586.4) rotate(-45)" font-size="5.4" text-anchor="end" fill="#111">hsa05310:Asthma</text>
<text transform="translate(320 586.4) rotate(-45)" font-size="5.4" text-anchor="end" fill="#111">hsa04940:Type I diabetes mellitus</text>
<text transform="translate(330.1 586.4) rotate(-45)" font-size="5.4" text-anchor="end" fill="#111">hsa05332:Graft-versus-host disease</text>
<text transform="translate(340.2 586.4) rotate(-45)" font-size="5.4" text-anchor="end" fill="#111">hsa04672:Intestinal immune network for IgA production</text>
<text transform="translate(350.2 586.4) rotate(-45)" font-size="5.4" text-anchor="end" fill="#111">hsa05330:Allograft rejection</text>
<text transform="translate(360.3 586.4) rotate(-45)" font-size="5.4" text-anchor="end" fill="#111">hsa04640:Hematopoietic cell lineage</text>
<text transform="translate(370.4 586.4) rotate(-45)" font-size="5.4" text-anchor="end" fill="#111">hsa04060:Cytokine-cytokine receptor interaction</text>
<text transform="translate(380.5 586.4) rotate(-45)" font-size="5.4" text-anchor="end" fill="#111">hsa04612:Antigen processing and presentation</text>
<text transform="translate(390.6 586.4) rotate(-45)" font-size="5.4" text-anchor="end" fill="#111">hsa05320:Autoimmune thyroid disease</text>
<text transform="translate(400.6 586.4) rotate(-45)" font-size="5.4" text-anchor="end" fill="#111">hsa05322:Systemic lupus erythematosus</text>
<text transform="translate(410.7 586.4) rotate(-45)" font-size="5.4" text-anchor="end" fill="#111">hsa04610:Complement and coagulation cascades</text>
<text transform="translate(420.8 586.4) rotate(-45)" font-size="5.4" text-anchor="end" fill="#111">hsa05416:Viral myocarditis</text>
<text transform="translate(430.9 586.4) rotate(-45)" font-size="5.4" text-anchor="end" fill="#111">hsa04062:Chemokine signaling pathway</text>
<text transform="translate(441 586.4) rotate(-45)" font-size="5.4" text-anchor="end" fill="#111">hsa04514:Cell adhesion molecules (CAMs)</text>
<defs><linearGradient id="gF" x1="0" y1="0" x2="0" y2="1"><stop offset="0" stop-color="#f8c020"/><stop offset="0.5" stop-color="#ee8a18"/><stop offset="1" stop-color="#c83a10"/></linearGradient></defs>
<rect x="430.2" y="550.4" width="10.4" height="8.6" fill="url(#gF)" stroke="#0a0a0a" stroke-width="1"/>
<rect x="440.9" y="550" width="1.3" height="9.4" fill="#2a1a10"/>
<path d="M443.4 550.4V559.4" stroke="#222" stroke-width="0.5"/>
<text x="444.2" y="552.3" font-size="2.6" fill="#222">1</text>
<text x="444.2" y="556.3" font-size="2.6" fill="#222">4</text>
<text x="444.2" y="560.5" font-size="2.6" fill="#222">7</text>
<text x="448.6" y="556.6" font-size="5.4" fill="#111">-log P Value</text>
</g>
<path d="M0 0H520V689H0Z M1.1 1.5V687.4H518.9V1.5Z" fill="#0a0a0a" fill-rule="evenodd"/>
</svg></body></html>
